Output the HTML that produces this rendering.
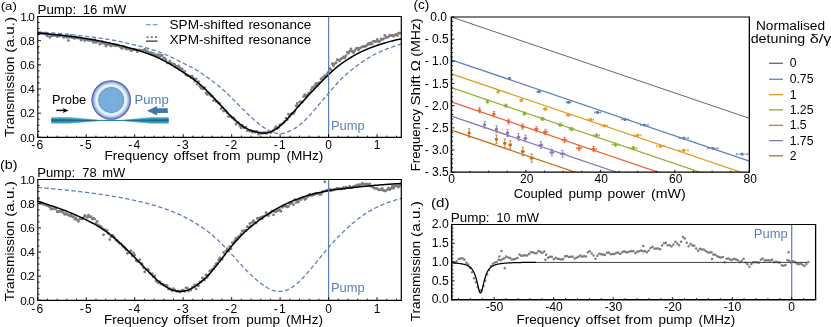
<!DOCTYPE html>
<html><head><meta charset="utf-8"><title>figure</title>
<style>
html,body{margin:0;padding:0;background:#fff;}
svg{display:block;font-family:"Liberation Sans",sans-serif;}
</style></head>
<body>
<svg width="831" height="327" viewBox="0 0 831 327" style="will-change:transform">
<rect width="831" height="327" fill="#fff"/>
<g id="pa">
<path d="M37.1 33.32a1.4 1.4 0 1 0 2.8 0a1.4 1.4 0 1 0 -2.8 0zM38.35 33.77a1.4 1.4 0 1 0 2.8 0a1.4 1.4 0 1 0 -2.8 0zM39.6 33.43a1.4 1.4 0 1 0 2.8 0a1.4 1.4 0 1 0 -2.8 0zM40.85 33.06a1.4 1.4 0 1 0 2.8 0a1.4 1.4 0 1 0 -2.8 0zM42.1 33.64a1.4 1.4 0 1 0 2.8 0a1.4 1.4 0 1 0 -2.8 0zM43.35 33.33a1.4 1.4 0 1 0 2.8 0a1.4 1.4 0 1 0 -2.8 0zM44.6 34.47a1.4 1.4 0 1 0 2.8 0a1.4 1.4 0 1 0 -2.8 0zM45.85 35.81a1.4 1.4 0 1 0 2.8 0a1.4 1.4 0 1 0 -2.8 0zM47.1 34.33a1.4 1.4 0 1 0 2.8 0a1.4 1.4 0 1 0 -2.8 0zM48.35 37.4a1.4 1.4 0 1 0 2.8 0a1.4 1.4 0 1 0 -2.8 0zM49.6 35.59a1.4 1.4 0 1 0 2.8 0a1.4 1.4 0 1 0 -2.8 0zM50.85 35.65a1.4 1.4 0 1 0 2.8 0a1.4 1.4 0 1 0 -2.8 0zM52.1 35.6a1.4 1.4 0 1 0 2.8 0a1.4 1.4 0 1 0 -2.8 0zM53.35 34.85a1.4 1.4 0 1 0 2.8 0a1.4 1.4 0 1 0 -2.8 0zM54.6 35.85a1.4 1.4 0 1 0 2.8 0a1.4 1.4 0 1 0 -2.8 0zM55.85 36.7a1.4 1.4 0 1 0 2.8 0a1.4 1.4 0 1 0 -2.8 0zM57.1 35.03a1.4 1.4 0 1 0 2.8 0a1.4 1.4 0 1 0 -2.8 0zM58.35 36.02a1.4 1.4 0 1 0 2.8 0a1.4 1.4 0 1 0 -2.8 0zM59.6 34.86a1.4 1.4 0 1 0 2.8 0a1.4 1.4 0 1 0 -2.8 0zM60.85 35.56a1.4 1.4 0 1 0 2.8 0a1.4 1.4 0 1 0 -2.8 0zM62.1 37.39a1.4 1.4 0 1 0 2.8 0a1.4 1.4 0 1 0 -2.8 0zM63.35 36.8a1.4 1.4 0 1 0 2.8 0a1.4 1.4 0 1 0 -2.8 0zM64.6 36.01a1.4 1.4 0 1 0 2.8 0a1.4 1.4 0 1 0 -2.8 0zM65.85 37.56a1.4 1.4 0 1 0 2.8 0a1.4 1.4 0 1 0 -2.8 0zM67.1 40.6a1.4 1.4 0 1 0 2.8 0a1.4 1.4 0 1 0 -2.8 0zM68.35 37.44a1.4 1.4 0 1 0 2.8 0a1.4 1.4 0 1 0 -2.8 0zM69.6 35.47a1.4 1.4 0 1 0 2.8 0a1.4 1.4 0 1 0 -2.8 0zM70.85 37.43a1.4 1.4 0 1 0 2.8 0a1.4 1.4 0 1 0 -2.8 0zM72.1 38.04a1.4 1.4 0 1 0 2.8 0a1.4 1.4 0 1 0 -2.8 0zM73.35 38.35a1.4 1.4 0 1 0 2.8 0a1.4 1.4 0 1 0 -2.8 0zM74.6 37.02a1.4 1.4 0 1 0 2.8 0a1.4 1.4 0 1 0 -2.8 0zM75.85 38.15a1.4 1.4 0 1 0 2.8 0a1.4 1.4 0 1 0 -2.8 0zM77.1 37.86a1.4 1.4 0 1 0 2.8 0a1.4 1.4 0 1 0 -2.8 0zM78.35 38.19a1.4 1.4 0 1 0 2.8 0a1.4 1.4 0 1 0 -2.8 0zM79.6 40.08a1.4 1.4 0 1 0 2.8 0a1.4 1.4 0 1 0 -2.8 0zM80.85 38.55a1.4 1.4 0 1 0 2.8 0a1.4 1.4 0 1 0 -2.8 0zM82.1 39.45a1.4 1.4 0 1 0 2.8 0a1.4 1.4 0 1 0 -2.8 0zM83.35 40.49a1.4 1.4 0 1 0 2.8 0a1.4 1.4 0 1 0 -2.8 0zM84.6 39.33a1.4 1.4 0 1 0 2.8 0a1.4 1.4 0 1 0 -2.8 0zM85.85 39.96a1.4 1.4 0 1 0 2.8 0a1.4 1.4 0 1 0 -2.8 0zM87.1 40.37a1.4 1.4 0 1 0 2.8 0a1.4 1.4 0 1 0 -2.8 0zM88.35 40.54a1.4 1.4 0 1 0 2.8 0a1.4 1.4 0 1 0 -2.8 0zM89.6 39.56a1.4 1.4 0 1 0 2.8 0a1.4 1.4 0 1 0 -2.8 0zM90.85 40.98a1.4 1.4 0 1 0 2.8 0a1.4 1.4 0 1 0 -2.8 0zM92.1 42.38a1.4 1.4 0 1 0 2.8 0a1.4 1.4 0 1 0 -2.8 0zM93.35 39.92a1.4 1.4 0 1 0 2.8 0a1.4 1.4 0 1 0 -2.8 0zM94.6 42.38a1.4 1.4 0 1 0 2.8 0a1.4 1.4 0 1 0 -2.8 0zM95.85 41.92a1.4 1.4 0 1 0 2.8 0a1.4 1.4 0 1 0 -2.8 0zM97.1 41.45a1.4 1.4 0 1 0 2.8 0a1.4 1.4 0 1 0 -2.8 0zM98.35 44.15a1.4 1.4 0 1 0 2.8 0a1.4 1.4 0 1 0 -2.8 0zM99.6 43.24a1.4 1.4 0 1 0 2.8 0a1.4 1.4 0 1 0 -2.8 0zM100.85 41.66a1.4 1.4 0 1 0 2.8 0a1.4 1.4 0 1 0 -2.8 0zM102.1 43.1a1.4 1.4 0 1 0 2.8 0a1.4 1.4 0 1 0 -2.8 0zM103.35 43.83a1.4 1.4 0 1 0 2.8 0a1.4 1.4 0 1 0 -2.8 0zM104.6 45.98a1.4 1.4 0 1 0 2.8 0a1.4 1.4 0 1 0 -2.8 0zM105.85 44.45a1.4 1.4 0 1 0 2.8 0a1.4 1.4 0 1 0 -2.8 0zM107.1 44.02a1.4 1.4 0 1 0 2.8 0a1.4 1.4 0 1 0 -2.8 0zM108.35 44.98a1.4 1.4 0 1 0 2.8 0a1.4 1.4 0 1 0 -2.8 0zM109.6 45.98a1.4 1.4 0 1 0 2.8 0a1.4 1.4 0 1 0 -2.8 0zM110.85 44.28a1.4 1.4 0 1 0 2.8 0a1.4 1.4 0 1 0 -2.8 0zM112.1 45.39a1.4 1.4 0 1 0 2.8 0a1.4 1.4 0 1 0 -2.8 0zM113.35 45.05a1.4 1.4 0 1 0 2.8 0a1.4 1.4 0 1 0 -2.8 0zM114.6 45.9a1.4 1.4 0 1 0 2.8 0a1.4 1.4 0 1 0 -2.8 0zM115.85 44.95a1.4 1.4 0 1 0 2.8 0a1.4 1.4 0 1 0 -2.8 0zM117.1 45.83a1.4 1.4 0 1 0 2.8 0a1.4 1.4 0 1 0 -2.8 0zM118.35 46.49a1.4 1.4 0 1 0 2.8 0a1.4 1.4 0 1 0 -2.8 0zM119.6 47.84a1.4 1.4 0 1 0 2.8 0a1.4 1.4 0 1 0 -2.8 0zM120.85 48.39a1.4 1.4 0 1 0 2.8 0a1.4 1.4 0 1 0 -2.8 0zM122.1 46.36a1.4 1.4 0 1 0 2.8 0a1.4 1.4 0 1 0 -2.8 0zM123.35 47.19a1.4 1.4 0 1 0 2.8 0a1.4 1.4 0 1 0 -2.8 0zM124.6 48.89a1.4 1.4 0 1 0 2.8 0a1.4 1.4 0 1 0 -2.8 0zM125.85 49.1a1.4 1.4 0 1 0 2.8 0a1.4 1.4 0 1 0 -2.8 0zM127.1 48.5a1.4 1.4 0 1 0 2.8 0a1.4 1.4 0 1 0 -2.8 0zM128.35 49.19a1.4 1.4 0 1 0 2.8 0a1.4 1.4 0 1 0 -2.8 0zM129.6 50.68a1.4 1.4 0 1 0 2.8 0a1.4 1.4 0 1 0 -2.8 0zM130.85 50.29a1.4 1.4 0 1 0 2.8 0a1.4 1.4 0 1 0 -2.8 0zM132.1 49.46a1.4 1.4 0 1 0 2.8 0a1.4 1.4 0 1 0 -2.8 0zM133.35 49.58a1.4 1.4 0 1 0 2.8 0a1.4 1.4 0 1 0 -2.8 0zM134.6 49.86a1.4 1.4 0 1 0 2.8 0a1.4 1.4 0 1 0 -2.8 0zM135.85 51.76a1.4 1.4 0 1 0 2.8 0a1.4 1.4 0 1 0 -2.8 0zM137.1 49.97a1.4 1.4 0 1 0 2.8 0a1.4 1.4 0 1 0 -2.8 0zM138.35 50.1a1.4 1.4 0 1 0 2.8 0a1.4 1.4 0 1 0 -2.8 0zM139.6 50.76a1.4 1.4 0 1 0 2.8 0a1.4 1.4 0 1 0 -2.8 0zM140.85 50.33a1.4 1.4 0 1 0 2.8 0a1.4 1.4 0 1 0 -2.8 0zM142.1 50.29a1.4 1.4 0 1 0 2.8 0a1.4 1.4 0 1 0 -2.8 0zM143.35 49.43a1.4 1.4 0 1 0 2.8 0a1.4 1.4 0 1 0 -2.8 0zM144.6 50.87a1.4 1.4 0 1 0 2.8 0a1.4 1.4 0 1 0 -2.8 0zM145.85 50.89a1.4 1.4 0 1 0 2.8 0a1.4 1.4 0 1 0 -2.8 0zM147.1 52.95a1.4 1.4 0 1 0 2.8 0a1.4 1.4 0 1 0 -2.8 0zM148.35 52.91a1.4 1.4 0 1 0 2.8 0a1.4 1.4 0 1 0 -2.8 0zM149.6 52.7a1.4 1.4 0 1 0 2.8 0a1.4 1.4 0 1 0 -2.8 0zM150.85 53.9a1.4 1.4 0 1 0 2.8 0a1.4 1.4 0 1 0 -2.8 0zM152.1 53.38a1.4 1.4 0 1 0 2.8 0a1.4 1.4 0 1 0 -2.8 0zM153.35 55.33a1.4 1.4 0 1 0 2.8 0a1.4 1.4 0 1 0 -2.8 0zM154.6 54.78a1.4 1.4 0 1 0 2.8 0a1.4 1.4 0 1 0 -2.8 0zM155.85 55.95a1.4 1.4 0 1 0 2.8 0a1.4 1.4 0 1 0 -2.8 0zM157.1 54.54a1.4 1.4 0 1 0 2.8 0a1.4 1.4 0 1 0 -2.8 0zM158.35 56.87a1.4 1.4 0 1 0 2.8 0a1.4 1.4 0 1 0 -2.8 0zM159.6 55.28a1.4 1.4 0 1 0 2.8 0a1.4 1.4 0 1 0 -2.8 0zM160.85 55.51a1.4 1.4 0 1 0 2.8 0a1.4 1.4 0 1 0 -2.8 0zM162.1 58.04a1.4 1.4 0 1 0 2.8 0a1.4 1.4 0 1 0 -2.8 0zM163.35 58.04a1.4 1.4 0 1 0 2.8 0a1.4 1.4 0 1 0 -2.8 0zM164.6 59.9a1.4 1.4 0 1 0 2.8 0a1.4 1.4 0 1 0 -2.8 0zM165.85 62.93a1.4 1.4 0 1 0 2.8 0a1.4 1.4 0 1 0 -2.8 0zM167.1 62.97a1.4 1.4 0 1 0 2.8 0a1.4 1.4 0 1 0 -2.8 0zM168.35 61.13a1.4 1.4 0 1 0 2.8 0a1.4 1.4 0 1 0 -2.8 0zM169.6 62.81a1.4 1.4 0 1 0 2.8 0a1.4 1.4 0 1 0 -2.8 0zM170.85 63.89a1.4 1.4 0 1 0 2.8 0a1.4 1.4 0 1 0 -2.8 0zM172.1 63.88a1.4 1.4 0 1 0 2.8 0a1.4 1.4 0 1 0 -2.8 0zM173.35 64.61a1.4 1.4 0 1 0 2.8 0a1.4 1.4 0 1 0 -2.8 0zM174.6 66.45a1.4 1.4 0 1 0 2.8 0a1.4 1.4 0 1 0 -2.8 0zM175.85 67.03a1.4 1.4 0 1 0 2.8 0a1.4 1.4 0 1 0 -2.8 0zM177.1 65.99a1.4 1.4 0 1 0 2.8 0a1.4 1.4 0 1 0 -2.8 0zM178.35 67.92a1.4 1.4 0 1 0 2.8 0a1.4 1.4 0 1 0 -2.8 0zM179.6 69.12a1.4 1.4 0 1 0 2.8 0a1.4 1.4 0 1 0 -2.8 0zM180.85 68.96a1.4 1.4 0 1 0 2.8 0a1.4 1.4 0 1 0 -2.8 0zM182.1 71.67a1.4 1.4 0 1 0 2.8 0a1.4 1.4 0 1 0 -2.8 0zM183.35 71.48a1.4 1.4 0 1 0 2.8 0a1.4 1.4 0 1 0 -2.8 0zM184.6 74.81a1.4 1.4 0 1 0 2.8 0a1.4 1.4 0 1 0 -2.8 0zM185.85 75.02a1.4 1.4 0 1 0 2.8 0a1.4 1.4 0 1 0 -2.8 0zM187.1 75.96a1.4 1.4 0 1 0 2.8 0a1.4 1.4 0 1 0 -2.8 0zM188.35 76.08a1.4 1.4 0 1 0 2.8 0a1.4 1.4 0 1 0 -2.8 0zM189.6 77.59a1.4 1.4 0 1 0 2.8 0a1.4 1.4 0 1 0 -2.8 0zM190.85 76.25a1.4 1.4 0 1 0 2.8 0a1.4 1.4 0 1 0 -2.8 0zM192.1 78.28a1.4 1.4 0 1 0 2.8 0a1.4 1.4 0 1 0 -2.8 0zM193.35 81.17a1.4 1.4 0 1 0 2.8 0a1.4 1.4 0 1 0 -2.8 0zM194.6 79.01a1.4 1.4 0 1 0 2.8 0a1.4 1.4 0 1 0 -2.8 0zM195.85 83.98a1.4 1.4 0 1 0 2.8 0a1.4 1.4 0 1 0 -2.8 0zM197.1 81.64a1.4 1.4 0 1 0 2.8 0a1.4 1.4 0 1 0 -2.8 0zM198.35 86.19a1.4 1.4 0 1 0 2.8 0a1.4 1.4 0 1 0 -2.8 0zM199.6 88.11a1.4 1.4 0 1 0 2.8 0a1.4 1.4 0 1 0 -2.8 0zM200.85 88.54a1.4 1.4 0 1 0 2.8 0a1.4 1.4 0 1 0 -2.8 0zM202.1 88.8a1.4 1.4 0 1 0 2.8 0a1.4 1.4 0 1 0 -2.8 0zM203.35 87.58a1.4 1.4 0 1 0 2.8 0a1.4 1.4 0 1 0 -2.8 0zM204.6 92.89a1.4 1.4 0 1 0 2.8 0a1.4 1.4 0 1 0 -2.8 0zM205.85 94.45a1.4 1.4 0 1 0 2.8 0a1.4 1.4 0 1 0 -2.8 0zM207.1 93.47a1.4 1.4 0 1 0 2.8 0a1.4 1.4 0 1 0 -2.8 0zM208.35 94.44a1.4 1.4 0 1 0 2.8 0a1.4 1.4 0 1 0 -2.8 0zM209.6 95.92a1.4 1.4 0 1 0 2.8 0a1.4 1.4 0 1 0 -2.8 0zM210.85 95.98a1.4 1.4 0 1 0 2.8 0a1.4 1.4 0 1 0 -2.8 0zM212.1 100.53a1.4 1.4 0 1 0 2.8 0a1.4 1.4 0 1 0 -2.8 0zM213.35 99.32a1.4 1.4 0 1 0 2.8 0a1.4 1.4 0 1 0 -2.8 0zM214.6 101.41a1.4 1.4 0 1 0 2.8 0a1.4 1.4 0 1 0 -2.8 0zM215.85 101.58a1.4 1.4 0 1 0 2.8 0a1.4 1.4 0 1 0 -2.8 0zM217.1 103.17a1.4 1.4 0 1 0 2.8 0a1.4 1.4 0 1 0 -2.8 0zM218.35 103.48a1.4 1.4 0 1 0 2.8 0a1.4 1.4 0 1 0 -2.8 0zM219.6 108.83a1.4 1.4 0 1 0 2.8 0a1.4 1.4 0 1 0 -2.8 0zM220.85 107.94a1.4 1.4 0 1 0 2.8 0a1.4 1.4 0 1 0 -2.8 0zM222.1 111.05a1.4 1.4 0 1 0 2.8 0a1.4 1.4 0 1 0 -2.8 0zM223.35 110.88a1.4 1.4 0 1 0 2.8 0a1.4 1.4 0 1 0 -2.8 0zM224.6 111.1a1.4 1.4 0 1 0 2.8 0a1.4 1.4 0 1 0 -2.8 0zM225.85 113a1.4 1.4 0 1 0 2.8 0a1.4 1.4 0 1 0 -2.8 0zM227.1 116.54a1.4 1.4 0 1 0 2.8 0a1.4 1.4 0 1 0 -2.8 0zM228.35 116.09a1.4 1.4 0 1 0 2.8 0a1.4 1.4 0 1 0 -2.8 0zM229.6 116.77a1.4 1.4 0 1 0 2.8 0a1.4 1.4 0 1 0 -2.8 0zM230.85 118.11a1.4 1.4 0 1 0 2.8 0a1.4 1.4 0 1 0 -2.8 0zM232.1 117.75a1.4 1.4 0 1 0 2.8 0a1.4 1.4 0 1 0 -2.8 0zM233.35 119.75a1.4 1.4 0 1 0 2.8 0a1.4 1.4 0 1 0 -2.8 0zM234.6 124.33a1.4 1.4 0 1 0 2.8 0a1.4 1.4 0 1 0 -2.8 0zM235.85 122.18a1.4 1.4 0 1 0 2.8 0a1.4 1.4 0 1 0 -2.8 0zM237.1 122.73a1.4 1.4 0 1 0 2.8 0a1.4 1.4 0 1 0 -2.8 0zM238.35 125.55a1.4 1.4 0 1 0 2.8 0a1.4 1.4 0 1 0 -2.8 0zM239.6 127.82a1.4 1.4 0 1 0 2.8 0a1.4 1.4 0 1 0 -2.8 0zM240.85 125.15a1.4 1.4 0 1 0 2.8 0a1.4 1.4 0 1 0 -2.8 0zM242.1 127.51a1.4 1.4 0 1 0 2.8 0a1.4 1.4 0 1 0 -2.8 0zM243.35 127.79a1.4 1.4 0 1 0 2.8 0a1.4 1.4 0 1 0 -2.8 0zM244.6 127.27a1.4 1.4 0 1 0 2.8 0a1.4 1.4 0 1 0 -2.8 0zM245.85 130.66a1.4 1.4 0 1 0 2.8 0a1.4 1.4 0 1 0 -2.8 0zM247.1 130.42a1.4 1.4 0 1 0 2.8 0a1.4 1.4 0 1 0 -2.8 0zM248.35 131.04a1.4 1.4 0 1 0 2.8 0a1.4 1.4 0 1 0 -2.8 0zM249.6 130.61a1.4 1.4 0 1 0 2.8 0a1.4 1.4 0 1 0 -2.8 0zM250.85 132.15a1.4 1.4 0 1 0 2.8 0a1.4 1.4 0 1 0 -2.8 0zM252.1 131.48a1.4 1.4 0 1 0 2.8 0a1.4 1.4 0 1 0 -2.8 0zM253.35 132.13a1.4 1.4 0 1 0 2.8 0a1.4 1.4 0 1 0 -2.8 0zM254.6 131.44a1.4 1.4 0 1 0 2.8 0a1.4 1.4 0 1 0 -2.8 0zM255.85 131.56a1.4 1.4 0 1 0 2.8 0a1.4 1.4 0 1 0 -2.8 0zM257.1 134.14a1.4 1.4 0 1 0 2.8 0a1.4 1.4 0 1 0 -2.8 0zM258.35 132.56a1.4 1.4 0 1 0 2.8 0a1.4 1.4 0 1 0 -2.8 0zM259.6 133.37a1.4 1.4 0 1 0 2.8 0a1.4 1.4 0 1 0 -2.8 0zM260.85 133.11a1.4 1.4 0 1 0 2.8 0a1.4 1.4 0 1 0 -2.8 0zM262.1 132.73a1.4 1.4 0 1 0 2.8 0a1.4 1.4 0 1 0 -2.8 0zM263.35 132.58a1.4 1.4 0 1 0 2.8 0a1.4 1.4 0 1 0 -2.8 0zM264.6 133.44a1.4 1.4 0 1 0 2.8 0a1.4 1.4 0 1 0 -2.8 0zM265.85 132.33a1.4 1.4 0 1 0 2.8 0a1.4 1.4 0 1 0 -2.8 0zM267.1 132.12a1.4 1.4 0 1 0 2.8 0a1.4 1.4 0 1 0 -2.8 0zM268.35 131.85a1.4 1.4 0 1 0 2.8 0a1.4 1.4 0 1 0 -2.8 0zM269.6 132.51a1.4 1.4 0 1 0 2.8 0a1.4 1.4 0 1 0 -2.8 0zM270.85 131.42a1.4 1.4 0 1 0 2.8 0a1.4 1.4 0 1 0 -2.8 0zM272.1 130.43a1.4 1.4 0 1 0 2.8 0a1.4 1.4 0 1 0 -2.8 0zM273.35 128.57a1.4 1.4 0 1 0 2.8 0a1.4 1.4 0 1 0 -2.8 0zM274.6 126.65a1.4 1.4 0 1 0 2.8 0a1.4 1.4 0 1 0 -2.8 0zM275.85 128.52a1.4 1.4 0 1 0 2.8 0a1.4 1.4 0 1 0 -2.8 0zM277.1 127.53a1.4 1.4 0 1 0 2.8 0a1.4 1.4 0 1 0 -2.8 0zM278.35 124.96a1.4 1.4 0 1 0 2.8 0a1.4 1.4 0 1 0 -2.8 0zM279.6 124.72a1.4 1.4 0 1 0 2.8 0a1.4 1.4 0 1 0 -2.8 0zM280.85 123.84a1.4 1.4 0 1 0 2.8 0a1.4 1.4 0 1 0 -2.8 0zM282.1 122.65a1.4 1.4 0 1 0 2.8 0a1.4 1.4 0 1 0 -2.8 0zM283.35 121.47a1.4 1.4 0 1 0 2.8 0a1.4 1.4 0 1 0 -2.8 0zM284.6 118.08a1.4 1.4 0 1 0 2.8 0a1.4 1.4 0 1 0 -2.8 0zM285.85 119.84a1.4 1.4 0 1 0 2.8 0a1.4 1.4 0 1 0 -2.8 0zM287.1 114.14a1.4 1.4 0 1 0 2.8 0a1.4 1.4 0 1 0 -2.8 0zM288.35 116.13a1.4 1.4 0 1 0 2.8 0a1.4 1.4 0 1 0 -2.8 0zM289.6 114.15a1.4 1.4 0 1 0 2.8 0a1.4 1.4 0 1 0 -2.8 0zM290.85 113.36a1.4 1.4 0 1 0 2.8 0a1.4 1.4 0 1 0 -2.8 0zM292.1 113.59a1.4 1.4 0 1 0 2.8 0a1.4 1.4 0 1 0 -2.8 0zM293.35 111.51a1.4 1.4 0 1 0 2.8 0a1.4 1.4 0 1 0 -2.8 0zM294.6 105.78a1.4 1.4 0 1 0 2.8 0a1.4 1.4 0 1 0 -2.8 0zM295.85 103.48a1.4 1.4 0 1 0 2.8 0a1.4 1.4 0 1 0 -2.8 0zM297.1 106.15a1.4 1.4 0 1 0 2.8 0a1.4 1.4 0 1 0 -2.8 0zM298.35 101.78a1.4 1.4 0 1 0 2.8 0a1.4 1.4 0 1 0 -2.8 0zM299.6 102.01a1.4 1.4 0 1 0 2.8 0a1.4 1.4 0 1 0 -2.8 0zM300.85 101.99a1.4 1.4 0 1 0 2.8 0a1.4 1.4 0 1 0 -2.8 0zM302.1 96.64a1.4 1.4 0 1 0 2.8 0a1.4 1.4 0 1 0 -2.8 0zM303.35 94.54a1.4 1.4 0 1 0 2.8 0a1.4 1.4 0 1 0 -2.8 0zM304.6 96.94a1.4 1.4 0 1 0 2.8 0a1.4 1.4 0 1 0 -2.8 0zM305.85 95.25a1.4 1.4 0 1 0 2.8 0a1.4 1.4 0 1 0 -2.8 0zM307.1 93.44a1.4 1.4 0 1 0 2.8 0a1.4 1.4 0 1 0 -2.8 0zM308.35 92.55a1.4 1.4 0 1 0 2.8 0a1.4 1.4 0 1 0 -2.8 0zM309.6 89.81a1.4 1.4 0 1 0 2.8 0a1.4 1.4 0 1 0 -2.8 0zM310.85 87.47a1.4 1.4 0 1 0 2.8 0a1.4 1.4 0 1 0 -2.8 0zM312.1 88.25a1.4 1.4 0 1 0 2.8 0a1.4 1.4 0 1 0 -2.8 0zM313.35 85.69a1.4 1.4 0 1 0 2.8 0a1.4 1.4 0 1 0 -2.8 0zM314.6 83.35a1.4 1.4 0 1 0 2.8 0a1.4 1.4 0 1 0 -2.8 0zM315.85 85.36a1.4 1.4 0 1 0 2.8 0a1.4 1.4 0 1 0 -2.8 0zM317.1 83.19a1.4 1.4 0 1 0 2.8 0a1.4 1.4 0 1 0 -2.8 0zM318.35 82.62a1.4 1.4 0 1 0 2.8 0a1.4 1.4 0 1 0 -2.8 0zM319.6 79.24a1.4 1.4 0 1 0 2.8 0a1.4 1.4 0 1 0 -2.8 0zM320.85 78.52a1.4 1.4 0 1 0 2.8 0a1.4 1.4 0 1 0 -2.8 0zM322.1 76.79a1.4 1.4 0 1 0 2.8 0a1.4 1.4 0 1 0 -2.8 0zM323.35 75.76a1.4 1.4 0 1 0 2.8 0a1.4 1.4 0 1 0 -2.8 0zM324.6 76.18a1.4 1.4 0 1 0 2.8 0a1.4 1.4 0 1 0 -2.8 0zM325.85 73.55a1.4 1.4 0 1 0 2.8 0a1.4 1.4 0 1 0 -2.8 0zM327.1 71.83a1.4 1.4 0 1 0 2.8 0a1.4 1.4 0 1 0 -2.8 0zM328.35 68.42a1.4 1.4 0 1 0 2.8 0a1.4 1.4 0 1 0 -2.8 0zM329.6 69.72a1.4 1.4 0 1 0 2.8 0a1.4 1.4 0 1 0 -2.8 0zM330.85 63.77a1.4 1.4 0 1 0 2.8 0a1.4 1.4 0 1 0 -2.8 0zM332.1 65.92a1.4 1.4 0 1 0 2.8 0a1.4 1.4 0 1 0 -2.8 0zM333.35 63.53a1.4 1.4 0 1 0 2.8 0a1.4 1.4 0 1 0 -2.8 0zM334.6 62.63a1.4 1.4 0 1 0 2.8 0a1.4 1.4 0 1 0 -2.8 0zM335.85 59.76a1.4 1.4 0 1 0 2.8 0a1.4 1.4 0 1 0 -2.8 0zM337.1 60.15a1.4 1.4 0 1 0 2.8 0a1.4 1.4 0 1 0 -2.8 0zM338.35 60.8a1.4 1.4 0 1 0 2.8 0a1.4 1.4 0 1 0 -2.8 0zM339.6 58.87a1.4 1.4 0 1 0 2.8 0a1.4 1.4 0 1 0 -2.8 0zM340.85 58.23a1.4 1.4 0 1 0 2.8 0a1.4 1.4 0 1 0 -2.8 0zM342.1 56.95a1.4 1.4 0 1 0 2.8 0a1.4 1.4 0 1 0 -2.8 0zM343.35 57.91a1.4 1.4 0 1 0 2.8 0a1.4 1.4 0 1 0 -2.8 0zM344.6 55.69a1.4 1.4 0 1 0 2.8 0a1.4 1.4 0 1 0 -2.8 0zM345.85 52.33a1.4 1.4 0 1 0 2.8 0a1.4 1.4 0 1 0 -2.8 0zM347.1 53.36a1.4 1.4 0 1 0 2.8 0a1.4 1.4 0 1 0 -2.8 0zM348.35 51.14a1.4 1.4 0 1 0 2.8 0a1.4 1.4 0 1 0 -2.8 0zM349.6 48.95a1.4 1.4 0 1 0 2.8 0a1.4 1.4 0 1 0 -2.8 0zM350.85 51.38a1.4 1.4 0 1 0 2.8 0a1.4 1.4 0 1 0 -2.8 0zM352.1 52.8a1.4 1.4 0 1 0 2.8 0a1.4 1.4 0 1 0 -2.8 0zM353.35 50.67a1.4 1.4 0 1 0 2.8 0a1.4 1.4 0 1 0 -2.8 0zM354.6 48.65a1.4 1.4 0 1 0 2.8 0a1.4 1.4 0 1 0 -2.8 0zM355.85 48.27a1.4 1.4 0 1 0 2.8 0a1.4 1.4 0 1 0 -2.8 0zM357.1 49.92a1.4 1.4 0 1 0 2.8 0a1.4 1.4 0 1 0 -2.8 0zM358.35 48.25a1.4 1.4 0 1 0 2.8 0a1.4 1.4 0 1 0 -2.8 0zM359.6 47.54a1.4 1.4 0 1 0 2.8 0a1.4 1.4 0 1 0 -2.8 0zM360.85 46.87a1.4 1.4 0 1 0 2.8 0a1.4 1.4 0 1 0 -2.8 0zM362.1 46.42a1.4 1.4 0 1 0 2.8 0a1.4 1.4 0 1 0 -2.8 0zM363.35 46.69a1.4 1.4 0 1 0 2.8 0a1.4 1.4 0 1 0 -2.8 0zM364.6 45.91a1.4 1.4 0 1 0 2.8 0a1.4 1.4 0 1 0 -2.8 0zM365.85 45.07a1.4 1.4 0 1 0 2.8 0a1.4 1.4 0 1 0 -2.8 0zM367.1 43.31a1.4 1.4 0 1 0 2.8 0a1.4 1.4 0 1 0 -2.8 0zM368.35 44.43a1.4 1.4 0 1 0 2.8 0a1.4 1.4 0 1 0 -2.8 0zM369.6 42.69a1.4 1.4 0 1 0 2.8 0a1.4 1.4 0 1 0 -2.8 0zM370.85 43.95a1.4 1.4 0 1 0 2.8 0a1.4 1.4 0 1 0 -2.8 0zM372.1 41.06a1.4 1.4 0 1 0 2.8 0a1.4 1.4 0 1 0 -2.8 0zM373.35 41.68a1.4 1.4 0 1 0 2.8 0a1.4 1.4 0 1 0 -2.8 0zM374.6 41.3a1.4 1.4 0 1 0 2.8 0a1.4 1.4 0 1 0 -2.8 0zM375.85 39.5a1.4 1.4 0 1 0 2.8 0a1.4 1.4 0 1 0 -2.8 0zM377.1 42.02a1.4 1.4 0 1 0 2.8 0a1.4 1.4 0 1 0 -2.8 0zM378.35 41.28a1.4 1.4 0 1 0 2.8 0a1.4 1.4 0 1 0 -2.8 0zM379.6 38.91a1.4 1.4 0 1 0 2.8 0a1.4 1.4 0 1 0 -2.8 0zM380.85 39.66a1.4 1.4 0 1 0 2.8 0a1.4 1.4 0 1 0 -2.8 0zM382.1 38.82a1.4 1.4 0 1 0 2.8 0a1.4 1.4 0 1 0 -2.8 0zM383.35 35.47a1.4 1.4 0 1 0 2.8 0a1.4 1.4 0 1 0 -2.8 0zM384.6 37.81a1.4 1.4 0 1 0 2.8 0a1.4 1.4 0 1 0 -2.8 0zM385.85 37.08a1.4 1.4 0 1 0 2.8 0a1.4 1.4 0 1 0 -2.8 0zM387.1 36.8a1.4 1.4 0 1 0 2.8 0a1.4 1.4 0 1 0 -2.8 0zM388.35 35.28a1.4 1.4 0 1 0 2.8 0a1.4 1.4 0 1 0 -2.8 0zM389.6 35.66a1.4 1.4 0 1 0 2.8 0a1.4 1.4 0 1 0 -2.8 0zM390.85 35.36a1.4 1.4 0 1 0 2.8 0a1.4 1.4 0 1 0 -2.8 0zM392.1 36.28a1.4 1.4 0 1 0 2.8 0a1.4 1.4 0 1 0 -2.8 0zM393.35 35.11a1.4 1.4 0 1 0 2.8 0a1.4 1.4 0 1 0 -2.8 0zM394.6 34.44a1.4 1.4 0 1 0 2.8 0a1.4 1.4 0 1 0 -2.8 0zM395.85 35.53a1.4 1.4 0 1 0 2.8 0a1.4 1.4 0 1 0 -2.8 0zM397.1 33.26a1.4 1.4 0 1 0 2.8 0a1.4 1.4 0 1 0 -2.8 0zM398.35 33.1a1.4 1.4 0 1 0 2.8 0a1.4 1.4 0 1 0 -2.8 0z" fill="#7d7d7d"/>
<path d="M37.6 32.1 L38.51 32.13 L39.42 32.15 L40.33 32.18 L41.25 32.22 L42.16 32.26 L43.07 32.3 L43.98 32.34 L44.89 32.39 L45.8 32.43 L46.72 32.49 L47.63 32.54 L48.54 32.6 L49.45 32.65 L50.36 32.72 L51.27 32.78 L52.18 32.85 L53.1 32.91 L54.01 32.98 L54.92 33.06 L55.83 33.13 L56.74 33.21 L57.65 33.29 L58.57 33.37 L59.48 33.45 L60.39 33.53 L61.3 33.62 L62.21 33.71 L63.12 33.8 L64.03 33.89 L64.95 33.98 L65.86 34.07 L66.77 34.17 L67.68 34.26 L68.59 34.36 L69.5 34.46 L70.42 34.56 L71.33 34.66 L72.24 34.76 L73.15 34.86 L74.06 34.97 L74.97 35.07 L75.88 35.18 L76.8 35.28 L77.71 35.39 L78.62 35.49 L79.53 35.6 L80.44 35.71 L81.35 35.82 L82.26 35.93 L83.18 36.04 L84.09 36.15 L85 36.26 L85.91 36.37 L86.82 36.47 L87.73 36.58 L88.65 36.69 L89.56 36.81 L90.47 36.92 L91.38 37.03 L92.29 37.14 L93.2 37.25 L94.11 37.37 L95.03 37.48 L95.94 37.6 L96.85 37.72 L97.76 37.84 L98.67 37.96 L99.58 38.08 L100.5 38.21 L101.41 38.34 L102.32 38.47 L103.23 38.6 L104.14 38.74 L105.05 38.87 L105.96 39.01 L106.88 39.16 L107.79 39.3 L108.7 39.45 L109.61 39.61 L110.52 39.76 L111.43 39.92 L112.35 40.09 L113.26 40.26 L114.17 40.43 L115.08 40.6 L115.99 40.78 L116.9 40.96 L117.81 41.14 L118.73 41.33 L119.64 41.52 L120.55 41.71 L121.46 41.91 L122.37 42.11 L123.28 42.31 L124.2 42.51 L125.11 42.71 L126.02 42.92 L126.93 43.13 L127.84 43.34 L128.75 43.55 L129.66 43.77 L130.58 43.99 L131.49 44.2 L132.4 44.42 L133.31 44.64 L134.22 44.87 L135.13 45.09 L136.05 45.31 L136.96 45.54 L137.87 45.76 L138.78 45.99 L139.69 46.22 L140.6 46.45 L141.51 46.68 L142.43 46.92 L143.34 47.16 L144.25 47.4 L145.16 47.64 L146.07 47.89 L146.98 48.14 L147.89 48.4 L148.81 48.66 L149.72 48.93 L150.63 49.2 L151.54 49.48 L152.45 49.76 L153.36 50.05 L154.28 50.34 L155.19 50.64 L156.1 50.95 L157.01 51.27 L157.92 51.59 L158.83 51.92 L159.74 52.26 L160.66 52.61 L161.57 52.97 L162.48 53.33 L163.39 53.7 L164.3 54.09 L165.21 54.48 L166.13 54.87 L167.04 55.28 L167.95 55.69 L168.86 56.1 L169.77 56.52 L170.68 56.95 L171.59 57.38 L172.51 57.82 L173.42 58.26 L174.33 58.7 L175.24 59.15 L176.15 59.6 L177.06 60.05 L177.98 60.51 L178.89 60.97 L179.8 61.43 L180.71 61.88 L181.62 62.34 L182.53 62.81 L183.44 63.26 L184.36 63.72 L185.27 64.18 L186.18 64.64 L187.09 65.09 L188 65.55 L188.91 66.01 L189.83 66.46 L190.74 66.93 L191.65 67.4 L192.56 67.88 L193.47 68.37 L194.38 68.87 L195.29 69.39 L196.21 69.92 L197.12 70.47 L198.03 71.04 L198.94 71.62 L199.85 72.22 L200.76 72.83 L201.68 73.45 L202.59 74.07 L203.5 74.71 L204.41 75.36 L205.32 76.01 L206.23 76.66 L207.14 77.32 L208.06 77.98 L208.97 78.64 L209.88 79.3 L210.79 79.96 L211.7 80.63 L212.61 81.3 L213.53 81.98 L214.44 82.66 L215.35 83.35 L216.26 84.06 L217.17 84.77 L218.08 85.49 L218.99 86.23 L219.91 86.99 L220.82 87.76 L221.73 88.55 L222.64 89.35 L223.55 90.17 L224.46 91.01 L225.37 91.85 L226.29 92.71 L227.2 93.59 L228.11 94.47 L229.02 95.36 L229.93 96.25 L230.84 97.15 L231.76 98.06 L232.67 98.97 L233.58 99.88 L234.49 100.79 L235.4 101.7 L236.31 102.61 L237.22 103.52 L238.14 104.44 L239.05 105.34 L239.96 106.25 L240.87 107.16 L241.78 108.06 L242.69 108.96 L243.61 109.86 L244.52 110.76 L245.43 111.65 L246.34 112.54 L247.25 113.42 L248.16 114.3 L249.07 115.17 L249.99 116.03 L250.9 116.89 L251.81 117.73 L252.72 118.57 L253.63 119.39 L254.54 120.2 L255.46 121 L256.37 121.78 L257.28 122.54 L258.19 123.29 L259.1 124.02 L260.01 124.73 L260.92 125.42 L261.84 126.09 L262.75 126.73 L263.66 127.36 L264.57 127.96 L265.48 128.54 L266.39 129.09 L267.31 129.62 L268.22 130.12 L269.13 130.59 L270.04 131.03 L270.95 131.45 L271.86 131.83 L272.77 132.19 L273.69 132.51 L274.6 132.79 L275.51 133.04 L276.42 133.24 L277.33 133.4 L278.24 133.52 L279.16 133.58 L280.07 133.6 L280.98 133.56 L281.89 133.48 L282.8 133.35 L283.71 133.17 L284.62 132.95 L285.54 132.7 L286.45 132.41 L287.36 132.08 L288.27 131.72 L289.18 131.33 L290.09 130.92 L291.01 130.48 L291.92 130.01 L292.83 129.52 L293.74 128.99 L294.65 128.44 L295.56 127.86 L296.47 127.25 L297.39 126.61 L298.3 125.94 L299.21 125.24 L300.12 124.52 L301.03 123.77 L301.94 122.99 L302.85 122.18 L303.77 121.35 L304.68 120.49 L305.59 119.61 L306.5 118.7 L307.41 117.77 L308.32 116.82 L309.24 115.84 L310.15 114.84 L311.06 113.82 L311.97 112.78 L312.88 111.73 L313.79 110.66 L314.7 109.58 L315.62 108.5 L316.53 107.41 L317.44 106.32 L318.35 105.23 L319.26 104.14 L320.17 103.05 L321.09 101.97 L322 100.9 L322.91 99.84 L323.82 98.78 L324.73 97.73 L325.64 96.68 L326.55 95.62 L327.47 94.57 L328.38 93.51 L329.29 92.44 L330.2 91.37 L331.11 90.3 L332.02 89.23 L332.94 88.17 L333.85 87.11 L334.76 86.07 L335.67 85.03 L336.58 84.01 L337.49 83.02 L338.4 82.04 L339.32 81.08 L340.23 80.15 L341.14 79.23 L342.05 78.33 L342.96 77.45 L343.87 76.59 L344.79 75.74 L345.7 74.91 L346.61 74.1 L347.52 73.3 L348.43 72.51 L349.34 71.74 L350.25 70.97 L351.17 70.22 L352.08 69.48 L352.99 68.75 L353.9 68.03 L354.81 67.32 L355.72 66.62 L356.64 65.93 L357.55 65.25 L358.46 64.58 L359.37 63.92 L360.28 63.27 L361.19 62.63 L362.1 62.01 L363.02 61.39 L363.93 60.78 L364.84 60.18 L365.75 59.59 L366.66 59.01 L367.57 58.44 L368.48 57.88 L369.4 57.33 L370.31 56.79 L371.22 56.27 L372.13 55.75 L373.04 55.25 L373.95 54.75 L374.87 54.27 L375.78 53.8 L376.69 53.35 L377.6 52.9 L378.51 52.47 L379.42 52.04 L380.33 51.63 L381.25 51.23 L382.16 50.83 L383.07 50.44 L383.98 50.07 L384.89 49.7 L385.8 49.33 L386.72 48.98 L387.63 48.63 L388.54 48.28 L389.45 47.95 L390.36 47.62 L391.27 47.29 L392.18 46.97 L393.1 46.65 L394.01 46.33 L394.92 46.02 L395.83 45.72 L396.74 45.41 L397.65 45.11 L398.57 44.8 L399.48 44.5 L400.39 44.2 L401.3 43.9" fill="none" stroke="#5E81B5" stroke-width="1.3" stroke-dasharray="4.3 2.5"/>
<path d="M37.6 32.8 L38.51 32.9 L39.42 32.99 L40.33 33.09 L41.25 33.19 L42.16 33.28 L43.07 33.38 L43.98 33.47 L44.89 33.57 L45.8 33.67 L46.72 33.76 L47.63 33.86 L48.54 33.95 L49.45 34.05 L50.36 34.14 L51.27 34.24 L52.18 34.33 L53.1 34.43 L54.01 34.53 L54.92 34.63 L55.83 34.72 L56.74 34.82 L57.65 34.92 L58.57 35.02 L59.48 35.12 L60.39 35.22 L61.3 35.32 L62.21 35.42 L63.12 35.53 L64.03 35.63 L64.95 35.74 L65.86 35.84 L66.77 35.95 L67.68 36.06 L68.59 36.17 L69.5 36.28 L70.42 36.39 L71.33 36.51 L72.24 36.62 L73.15 36.74 L74.06 36.86 L74.97 36.98 L75.88 37.1 L76.8 37.22 L77.71 37.35 L78.62 37.47 L79.53 37.6 L80.44 37.73 L81.35 37.86 L82.26 38 L83.18 38.13 L84.09 38.27 L85 38.41 L85.91 38.55 L86.82 38.7 L87.73 38.85 L88.65 39 L89.56 39.15 L90.47 39.3 L91.38 39.46 L92.29 39.61 L93.2 39.77 L94.11 39.94 L95.03 40.1 L95.94 40.27 L96.85 40.44 L97.76 40.61 L98.67 40.78 L99.58 40.96 L100.5 41.13 L101.41 41.31 L102.32 41.5 L103.23 41.68 L104.14 41.87 L105.05 42.05 L105.96 42.24 L106.88 42.44 L107.79 42.63 L108.7 42.83 L109.61 43.03 L110.52 43.23 L111.43 43.43 L112.35 43.63 L113.26 43.84 L114.17 44.05 L115.08 44.26 L115.99 44.48 L116.9 44.69 L117.81 44.91 L118.73 45.13 L119.64 45.35 L120.55 45.58 L121.46 45.8 L122.37 46.03 L123.28 46.27 L124.2 46.5 L125.11 46.74 L126.02 46.98 L126.93 47.22 L127.84 47.47 L128.75 47.71 L129.66 47.96 L130.58 48.22 L131.49 48.47 L132.4 48.73 L133.31 48.99 L134.22 49.26 L135.13 49.52 L136.05 49.79 L136.96 50.07 L137.87 50.34 L138.78 50.62 L139.69 50.91 L140.6 51.19 L141.51 51.48 L142.43 51.78 L143.34 52.08 L144.25 52.38 L145.16 52.69 L146.07 53.01 L146.98 53.33 L147.89 53.66 L148.81 53.99 L149.72 54.34 L150.63 54.68 L151.54 55.04 L152.45 55.4 L153.36 55.77 L154.28 56.15 L155.19 56.53 L156.1 56.93 L157.01 57.33 L157.92 57.74 L158.83 58.16 L159.74 58.59 L160.66 59.03 L161.57 59.48 L162.48 59.94 L163.39 60.41 L164.3 60.89 L165.21 61.38 L166.13 61.88 L167.04 62.39 L167.95 62.9 L168.86 63.42 L169.77 63.95 L170.68 64.49 L171.59 65.03 L172.51 65.58 L173.42 66.13 L174.33 66.69 L175.24 67.26 L176.15 67.83 L177.06 68.4 L177.98 68.98 L178.89 69.56 L179.8 70.14 L180.71 70.73 L181.62 71.32 L182.53 71.91 L183.44 72.5 L184.36 73.1 L185.27 73.69 L186.18 74.29 L187.09 74.89 L188 75.48 L188.91 76.09 L189.83 76.69 L190.74 77.31 L191.65 77.93 L192.56 78.57 L193.47 79.21 L194.38 79.88 L195.29 80.56 L196.21 81.26 L197.12 81.98 L198.03 82.72 L198.94 83.48 L199.85 84.26 L200.76 85.06 L201.68 85.87 L202.59 86.7 L203.5 87.54 L204.41 88.4 L205.32 89.27 L206.23 90.15 L207.14 91.05 L208.06 91.95 L208.97 92.87 L209.88 93.8 L210.79 94.73 L211.7 95.67 L212.61 96.62 L213.53 97.58 L214.44 98.54 L215.35 99.51 L216.26 100.48 L217.17 101.46 L218.08 102.44 L218.99 103.42 L219.91 104.41 L220.82 105.39 L221.73 106.38 L222.64 107.37 L223.55 108.36 L224.46 109.34 L225.37 110.32 L226.29 111.29 L227.2 112.25 L228.11 113.21 L229.02 114.16 L229.93 115.09 L230.84 116.01 L231.76 116.92 L232.67 117.81 L233.58 118.68 L234.49 119.53 L235.4 120.37 L236.31 121.18 L237.22 121.97 L238.14 122.73 L239.05 123.47 L239.96 124.19 L240.87 124.88 L241.78 125.54 L242.69 126.17 L243.61 126.77 L244.52 127.34 L245.43 127.87 L246.34 128.37 L247.25 128.84 L248.16 129.28 L249.07 129.68 L249.99 130.06 L250.9 130.41 L251.81 130.74 L252.72 131.05 L253.63 131.33 L254.54 131.6 L255.46 131.86 L256.37 132.1 L257.28 132.32 L258.19 132.53 L259.1 132.72 L260.01 132.88 L260.92 133.01 L261.84 133.11 L262.75 133.18 L263.66 133.2 L264.57 133.18 L265.48 133.11 L266.39 133 L267.31 132.84 L268.22 132.64 L269.13 132.39 L270.04 132.09 L270.95 131.74 L271.86 131.35 L272.77 130.91 L273.69 130.43 L274.6 129.9 L275.51 129.33 L276.42 128.72 L277.33 128.07 L278.24 127.39 L279.16 126.67 L280.07 125.91 L280.98 125.12 L281.89 124.31 L282.8 123.46 L283.71 122.59 L284.62 121.68 L285.54 120.76 L286.45 119.81 L287.36 118.85 L288.27 117.87 L289.18 116.87 L290.09 115.86 L291.01 114.84 L291.92 113.81 L292.83 112.77 L293.74 111.73 L294.65 110.69 L295.56 109.65 L296.47 108.62 L297.39 107.58 L298.3 106.55 L299.21 105.53 L300.12 104.51 L301.03 103.49 L301.94 102.48 L302.85 101.48 L303.77 100.47 L304.68 99.47 L305.59 98.48 L306.5 97.49 L307.41 96.5 L308.32 95.52 L309.24 94.54 L310.15 93.56 L311.06 92.59 L311.97 91.62 L312.88 90.66 L313.79 89.7 L314.7 88.74 L315.62 87.78 L316.53 86.83 L317.44 85.88 L318.35 84.94 L319.26 84 L320.17 83.06 L321.09 82.12 L322 81.19 L322.91 80.26 L323.82 79.34 L324.73 78.42 L325.64 77.51 L326.55 76.6 L327.47 75.71 L328.38 74.82 L329.29 73.95 L330.2 73.09 L331.11 72.24 L332.02 71.4 L332.94 70.58 L333.85 69.77 L334.76 68.97 L335.67 68.19 L336.58 67.43 L337.49 66.69 L338.4 65.96 L339.32 65.25 L340.23 64.55 L341.14 63.87 L342.05 63.21 L342.96 62.56 L343.87 61.93 L344.79 61.3 L345.7 60.69 L346.61 60.1 L347.52 59.51 L348.43 58.93 L349.34 58.36 L350.25 57.81 L351.17 57.26 L352.08 56.72 L352.99 56.18 L353.9 55.66 L354.81 55.14 L355.72 54.64 L356.64 54.14 L357.55 53.66 L358.46 53.18 L359.37 52.72 L360.28 52.26 L361.19 51.81 L362.1 51.38 L363.02 50.95 L363.93 50.54 L364.84 50.14 L365.75 49.74 L366.66 49.36 L367.57 48.98 L368.48 48.61 L369.4 48.25 L370.31 47.9 L371.22 47.55 L372.13 47.21 L373.04 46.87 L373.95 46.54 L374.87 46.22 L375.78 45.9 L376.69 45.58 L377.6 45.27 L378.51 44.96 L379.42 44.65 L380.33 44.35 L381.25 44.06 L382.16 43.77 L383.07 43.48 L383.98 43.2 L384.89 42.92 L385.8 42.65 L386.72 42.38 L387.63 42.12 L388.54 41.86 L389.45 41.61 L390.36 41.37 L391.27 41.13 L392.18 40.9 L393.1 40.67 L394.01 40.45 L394.92 40.23 L395.83 40.02 L396.74 39.82 L397.65 39.62 L398.57 39.43 L399.48 39.25 L400.39 39.07 L401.3 38.9" fill="none" stroke="#000" stroke-width="1.5"/>
<line x1="328.6" y1="16.5" x2="328.6" y2="137.35" stroke="#5E81B5" stroke-width="1.25"/>
<line x1="38" y1="46.6" x2="38" y2="50.4" stroke="#5E81B5" stroke-width="0.9"/>
<text x="330.9" y="129.8" font-size="12" text-anchor="start" fill="#5E81B5" textLength="33.8" lengthAdjust="spacingAndGlyphs">Pump</text>
</g>
<line x1="37.25" y1="16.5" x2="401.9" y2="16.5" stroke="#000" stroke-width="1.05"/>
<line x1="37.8" y1="16.5" x2="37.8" y2="137.35" stroke="#000" stroke-width="1.1"/>
<line x1="37.25" y1="137.35" x2="401.9" y2="137.35" stroke="#000" stroke-width="1.2"/>
<line x1="401.3" y1="16.5" x2="401.3" y2="137.35" stroke="#000" stroke-width="1.2"/>
<line x1="37.78" y1="137.35" x2="37.78" y2="134.15" stroke="#000" stroke-width="0.9"/>
<line x1="47.47" y1="137.35" x2="47.47" y2="135.65" stroke="#000" stroke-width="0.9"/>
<line x1="57.17" y1="137.35" x2="57.17" y2="135.65" stroke="#000" stroke-width="0.9"/>
<line x1="66.86" y1="137.35" x2="66.86" y2="135.65" stroke="#000" stroke-width="0.9"/>
<line x1="76.56" y1="137.35" x2="76.56" y2="135.65" stroke="#000" stroke-width="0.9"/>
<line x1="86.25" y1="137.35" x2="86.25" y2="134.15" stroke="#000" stroke-width="0.9"/>
<line x1="95.94" y1="137.35" x2="95.94" y2="135.65" stroke="#000" stroke-width="0.9"/>
<line x1="105.64" y1="137.35" x2="105.64" y2="135.65" stroke="#000" stroke-width="0.9"/>
<line x1="115.33" y1="137.35" x2="115.33" y2="135.65" stroke="#000" stroke-width="0.9"/>
<line x1="125.03" y1="137.35" x2="125.03" y2="135.65" stroke="#000" stroke-width="0.9"/>
<line x1="134.72" y1="137.35" x2="134.72" y2="134.15" stroke="#000" stroke-width="0.9"/>
<line x1="144.41" y1="137.35" x2="144.41" y2="135.65" stroke="#000" stroke-width="0.9"/>
<line x1="154.11" y1="137.35" x2="154.11" y2="135.65" stroke="#000" stroke-width="0.9"/>
<line x1="163.8" y1="137.35" x2="163.8" y2="135.65" stroke="#000" stroke-width="0.9"/>
<line x1="173.5" y1="137.35" x2="173.5" y2="135.65" stroke="#000" stroke-width="0.9"/>
<line x1="183.19" y1="137.35" x2="183.19" y2="134.15" stroke="#000" stroke-width="0.9"/>
<line x1="192.88" y1="137.35" x2="192.88" y2="135.65" stroke="#000" stroke-width="0.9"/>
<line x1="202.58" y1="137.35" x2="202.58" y2="135.65" stroke="#000" stroke-width="0.9"/>
<line x1="212.27" y1="137.35" x2="212.27" y2="135.65" stroke="#000" stroke-width="0.9"/>
<line x1="221.97" y1="137.35" x2="221.97" y2="135.65" stroke="#000" stroke-width="0.9"/>
<line x1="231.66" y1="137.35" x2="231.66" y2="134.15" stroke="#000" stroke-width="0.9"/>
<line x1="241.35" y1="137.35" x2="241.35" y2="135.65" stroke="#000" stroke-width="0.9"/>
<line x1="251.05" y1="137.35" x2="251.05" y2="135.65" stroke="#000" stroke-width="0.9"/>
<line x1="260.74" y1="137.35" x2="260.74" y2="135.65" stroke="#000" stroke-width="0.9"/>
<line x1="270.44" y1="137.35" x2="270.44" y2="135.65" stroke="#000" stroke-width="0.9"/>
<line x1="280.13" y1="137.35" x2="280.13" y2="134.15" stroke="#000" stroke-width="0.9"/>
<line x1="289.82" y1="137.35" x2="289.82" y2="135.65" stroke="#000" stroke-width="0.9"/>
<line x1="299.52" y1="137.35" x2="299.52" y2="135.65" stroke="#000" stroke-width="0.9"/>
<line x1="309.21" y1="137.35" x2="309.21" y2="135.65" stroke="#000" stroke-width="0.9"/>
<line x1="318.91" y1="137.35" x2="318.91" y2="135.65" stroke="#000" stroke-width="0.9"/>
<line x1="328.6" y1="137.35" x2="328.6" y2="134.15" stroke="#000" stroke-width="0.9"/>
<line x1="338.29" y1="137.35" x2="338.29" y2="135.65" stroke="#000" stroke-width="0.9"/>
<line x1="347.99" y1="137.35" x2="347.99" y2="135.65" stroke="#000" stroke-width="0.9"/>
<line x1="357.68" y1="137.35" x2="357.68" y2="135.65" stroke="#000" stroke-width="0.9"/>
<line x1="367.38" y1="137.35" x2="367.38" y2="135.65" stroke="#000" stroke-width="0.9"/>
<line x1="377.07" y1="137.35" x2="377.07" y2="134.15" stroke="#000" stroke-width="0.9"/>
<line x1="386.76" y1="137.35" x2="386.76" y2="135.65" stroke="#000" stroke-width="0.9"/>
<line x1="396.46" y1="137.35" x2="396.46" y2="135.65" stroke="#000" stroke-width="0.9"/>
<line x1="37.8" y1="137.35" x2="41" y2="137.35" stroke="#000" stroke-width="0.9"/>
<line x1="37.8" y1="131.31" x2="39.5" y2="131.31" stroke="#000" stroke-width="0.9"/>
<line x1="37.8" y1="125.27" x2="39.5" y2="125.27" stroke="#000" stroke-width="0.9"/>
<line x1="37.8" y1="119.22" x2="39.5" y2="119.22" stroke="#000" stroke-width="0.9"/>
<line x1="37.8" y1="113.18" x2="41" y2="113.18" stroke="#000" stroke-width="0.9"/>
<line x1="37.8" y1="107.14" x2="39.5" y2="107.14" stroke="#000" stroke-width="0.9"/>
<line x1="37.8" y1="101.09" x2="39.5" y2="101.09" stroke="#000" stroke-width="0.9"/>
<line x1="37.8" y1="95.05" x2="39.5" y2="95.05" stroke="#000" stroke-width="0.9"/>
<line x1="37.8" y1="89.01" x2="41" y2="89.01" stroke="#000" stroke-width="0.9"/>
<line x1="37.8" y1="82.97" x2="39.5" y2="82.97" stroke="#000" stroke-width="0.9"/>
<line x1="37.8" y1="76.92" x2="39.5" y2="76.92" stroke="#000" stroke-width="0.9"/>
<line x1="37.8" y1="70.88" x2="39.5" y2="70.88" stroke="#000" stroke-width="0.9"/>
<line x1="37.8" y1="64.84" x2="41" y2="64.84" stroke="#000" stroke-width="0.9"/>
<line x1="37.8" y1="58.8" x2="39.5" y2="58.8" stroke="#000" stroke-width="0.9"/>
<line x1="37.8" y1="52.75" x2="39.5" y2="52.75" stroke="#000" stroke-width="0.9"/>
<line x1="37.8" y1="46.71" x2="39.5" y2="46.71" stroke="#000" stroke-width="0.9"/>
<line x1="37.8" y1="40.67" x2="41" y2="40.67" stroke="#000" stroke-width="0.9"/>
<line x1="37.8" y1="34.63" x2="39.5" y2="34.63" stroke="#000" stroke-width="0.9"/>
<line x1="37.8" y1="28.59" x2="39.5" y2="28.59" stroke="#000" stroke-width="0.9"/>
<line x1="37.8" y1="22.54" x2="39.5" y2="22.54" stroke="#000" stroke-width="0.9"/>
<line x1="37.8" y1="16.5" x2="41" y2="16.5" stroke="#000" stroke-width="0.9"/>
<text x="34.9" y="141.55" font-size="11.8" text-anchor="end" fill="#000" textLength="14.7" lengthAdjust="spacing">0.0</text>
<text x="34.9" y="117.38" font-size="11.8" text-anchor="end" fill="#000" textLength="14.7" lengthAdjust="spacing">0.2</text>
<text x="34.9" y="93.21" font-size="11.8" text-anchor="end" fill="#000" textLength="14.7" lengthAdjust="spacing">0.4</text>
<text x="34.9" y="69.04" font-size="11.8" text-anchor="end" fill="#000" textLength="14.7" lengthAdjust="spacing">0.6</text>
<text x="34.9" y="44.87" font-size="11.8" text-anchor="end" fill="#000" textLength="14.7" lengthAdjust="spacing">0.8</text>
<text x="34.9" y="20.7" font-size="11.8" text-anchor="end" fill="#000" textLength="14.7" lengthAdjust="spacing">1.0</text>
<text x="37.28" y="149" font-size="12" text-anchor="middle" fill="#000" textLength="11.9" lengthAdjust="spacing">-6</text>
<text x="85.75" y="149" font-size="12" text-anchor="middle" fill="#000" textLength="11.9" lengthAdjust="spacing">-5</text>
<text x="134.22" y="149" font-size="12" text-anchor="middle" fill="#000" textLength="11.9" lengthAdjust="spacing">-4</text>
<text x="182.69" y="149" font-size="12" text-anchor="middle" fill="#000" textLength="11.9" lengthAdjust="spacing">-3</text>
<text x="231.16" y="149" font-size="12" text-anchor="middle" fill="#000" textLength="11.9" lengthAdjust="spacing">-2</text>
<text x="279.63" y="149" font-size="12" text-anchor="middle" fill="#000" textLength="11.9" lengthAdjust="spacing">-1</text>
<text x="328.6" y="149" font-size="12" text-anchor="middle" fill="#000">0</text>
<text x="377.07" y="149" font-size="12" text-anchor="middle" fill="#000">1</text>
<text x="104.5" y="160.3" font-size="12" text-anchor="start" fill="#000" textLength="63.8" lengthAdjust="spacingAndGlyphs">Frequency</text>
<text x="173.6" y="160.3" font-size="12" text-anchor="start" fill="#000" textLength="34.5" lengthAdjust="spacingAndGlyphs">offset</text>
<text x="212.7" y="160.3" font-size="12" text-anchor="start" fill="#000" textLength="27.9" lengthAdjust="spacingAndGlyphs">from</text>
<text x="246.6" y="160.3" font-size="12" text-anchor="start" fill="#000" textLength="33.8" lengthAdjust="spacingAndGlyphs">pump</text>
<text x="286.4" y="160.3" font-size="12" text-anchor="start" fill="#000" textLength="37" lengthAdjust="spacingAndGlyphs">(MHz)</text>
<text x="0.7" y="10.4" font-size="11.5" text-anchor="start" fill="#000" textLength="16.2" lengthAdjust="spacingAndGlyphs">(a)</text>
<text x="37.45" y="13.5" font-size="12" text-anchor="start" fill="#000" textLength="38.75" lengthAdjust="spacingAndGlyphs">Pump:</text>
<text x="82.7" y="13.5" font-size="12" text-anchor="start" fill="#000" textLength="14.6" lengthAdjust="spacingAndGlyphs">16</text>
<text x="102.7" y="13.5" font-size="12" text-anchor="start" fill="#000" textLength="23.6" lengthAdjust="spacingAndGlyphs">mW</text>
<text x="13.7" y="137.1" font-size="12" text-anchor="start" fill="#000" textLength="80.4" lengthAdjust="spacingAndGlyphs" transform="rotate(-90 13.7 137.1)">Transmission</text>
<text x="13.7" y="52.7" font-size="12" text-anchor="start" fill="#000" textLength="35.8" lengthAdjust="spacingAndGlyphs" transform="rotate(-90 13.7 52.7)">(a.u.)</text>
<line x1="146" y1="24.7" x2="157.6" y2="24.7" stroke="#5E81B5" stroke-width="1.1" stroke-dasharray="4.8 2"/>
<text x="169.5" y="28.9" font-size="12.3" text-anchor="start" fill="#000" textLength="74.1" lengthAdjust="spacingAndGlyphs">SPM-shifted</text>
<text x="248.4" y="28.9" font-size="12.3" text-anchor="start" fill="#000" textLength="62.8" lengthAdjust="spacingAndGlyphs">resonance</text>
<line x1="146" y1="41.1" x2="157.6" y2="41.1" stroke="#000" stroke-width="1"/>
<path d="M146.45 37.2a1.15 1.15 0 1 0 2.3 0a1.15 1.15 0 1 0 -2.3 0zM150.65 37.2a1.15 1.15 0 1 0 2.3 0a1.15 1.15 0 1 0 -2.3 0zM154.85 37.2a1.15 1.15 0 1 0 2.3 0a1.15 1.15 0 1 0 -2.3 0z" fill="#7d7d7d"/>
<text x="169.5" y="43.5" font-size="12.3" text-anchor="start" fill="#000" textLength="74.1" lengthAdjust="spacingAndGlyphs">XPM-shifted</text>
<text x="248.4" y="43.5" font-size="12.3" text-anchor="start" fill="#000" textLength="62.8" lengthAdjust="spacingAndGlyphs">resonance</text>
<defs>
<radialGradient id="gs" cx="50%" cy="50%" r="50%">
<stop offset="0" stop-color="#7db1dd"/>
<stop offset="0.55" stop-color="#77addb"/>
<stop offset="0.635" stop-color="#6a9fd3"/>
<stop offset="0.67" stop-color="#d5e9f8"/>
<stop offset="0.74" stop-color="#edf6fd"/>
<stop offset="0.82" stop-color="#c8dbf3"/>
<stop offset="0.90" stop-color="#93a7de"/>
<stop offset="0.96" stop-color="#5a6bb6"/>
<stop offset="1" stop-color="#3d4a98"/>
</radialGradient>
<linearGradient id="gt" x1="0" y1="0" x2="0" y2="1">
<stop offset="0" stop-color="#4ea5c4"/>
<stop offset="0.30" stop-color="#2f8fb3"/>
<stop offset="0.45" stop-color="#1a6d8f"/>
<stop offset="0.55" stop-color="#1a6d8f"/>
<stop offset="0.70" stop-color="#2f8fb3"/>
<stop offset="1" stop-color="#4ea5c4"/>
</linearGradient>
</defs>
<path d="M51.3 117.1 L69 117.1 L99 119.85 L123 119.85 L151 117.1 L168.6 117.1 L168.6 123.8 L151 123.8 L123 121.05 L99 121.05 L69 123.8 L51.3 123.8 Z" fill="#74c3de"/>
<path d="M51.3 118 L69 118 L99 120 L123 120 L151 118 L168.6 118 L168.6 122.9 L151 122.9 L123 120.9 L99 120.9 L69 122.9 L51.3 122.9 Z" fill="#3fa2c3"/>
<path d="M51.3 119.3 L69 119.3 L99 120.15 L123 120.15 L151 119.3 L168.6 119.3 L168.6 121.6 L151 121.6 L123 120.75 L99 120.75 L69 121.6 L51.3 121.6 Z" fill="#1d6a8a"/>
<circle cx="111.2" cy="100.0" r="19.8" fill="url(#gs)"/>
<text x="52" y="103.8" font-size="12.4" text-anchor="start" fill="#000" textLength="34.2" lengthAdjust="spacingAndGlyphs">Probe</text>
<text x="134.6" y="103.8" font-size="12.4" text-anchor="start" fill="#4f7fb0" textLength="34.2" lengthAdjust="spacingAndGlyphs">Pump</text>
<path d="M56.3 110.4 L65 110.4" stroke="#000" stroke-width="1.45" fill="none"/>
<path d="M68.6 110.4 L62.8 107.9 L64.0 110.4 L62.8 112.9 Z" fill="#000"/>
<path d="M147 110.7 L157.2 105.9 L157.2 108.3 L167.8 108.3 L167.8 113.1 L157.2 113.1 L157.2 115.5 Z" fill="#4577a8"/>
<g id="pb">
<path d="M37.1 199.07a1.4 1.4 0 1 0 2.8 0a1.4 1.4 0 1 0 -2.8 0zM38.35 203.17a1.4 1.4 0 1 0 2.8 0a1.4 1.4 0 1 0 -2.8 0zM39.6 203.21a1.4 1.4 0 1 0 2.8 0a1.4 1.4 0 1 0 -2.8 0zM40.85 203.8a1.4 1.4 0 1 0 2.8 0a1.4 1.4 0 1 0 -2.8 0zM42.1 204.2a1.4 1.4 0 1 0 2.8 0a1.4 1.4 0 1 0 -2.8 0zM43.35 204.34a1.4 1.4 0 1 0 2.8 0a1.4 1.4 0 1 0 -2.8 0zM44.6 205.18a1.4 1.4 0 1 0 2.8 0a1.4 1.4 0 1 0 -2.8 0zM45.85 205.45a1.4 1.4 0 1 0 2.8 0a1.4 1.4 0 1 0 -2.8 0zM47.1 206.22a1.4 1.4 0 1 0 2.8 0a1.4 1.4 0 1 0 -2.8 0zM48.35 207.21a1.4 1.4 0 1 0 2.8 0a1.4 1.4 0 1 0 -2.8 0zM49.6 209.2a1.4 1.4 0 1 0 2.8 0a1.4 1.4 0 1 0 -2.8 0zM50.85 208.77a1.4 1.4 0 1 0 2.8 0a1.4 1.4 0 1 0 -2.8 0zM52.1 208.68a1.4 1.4 0 1 0 2.8 0a1.4 1.4 0 1 0 -2.8 0zM53.35 208.69a1.4 1.4 0 1 0 2.8 0a1.4 1.4 0 1 0 -2.8 0zM54.6 209.16a1.4 1.4 0 1 0 2.8 0a1.4 1.4 0 1 0 -2.8 0zM55.85 211.91a1.4 1.4 0 1 0 2.8 0a1.4 1.4 0 1 0 -2.8 0zM57.1 211.36a1.4 1.4 0 1 0 2.8 0a1.4 1.4 0 1 0 -2.8 0zM58.35 211.46a1.4 1.4 0 1 0 2.8 0a1.4 1.4 0 1 0 -2.8 0zM59.6 211.57a1.4 1.4 0 1 0 2.8 0a1.4 1.4 0 1 0 -2.8 0zM60.85 211.33a1.4 1.4 0 1 0 2.8 0a1.4 1.4 0 1 0 -2.8 0zM62.1 212.93a1.4 1.4 0 1 0 2.8 0a1.4 1.4 0 1 0 -2.8 0zM63.35 214.45a1.4 1.4 0 1 0 2.8 0a1.4 1.4 0 1 0 -2.8 0zM64.6 213.71a1.4 1.4 0 1 0 2.8 0a1.4 1.4 0 1 0 -2.8 0zM65.85 214.45a1.4 1.4 0 1 0 2.8 0a1.4 1.4 0 1 0 -2.8 0zM67.1 215.04a1.4 1.4 0 1 0 2.8 0a1.4 1.4 0 1 0 -2.8 0zM68.35 215.97a1.4 1.4 0 1 0 2.8 0a1.4 1.4 0 1 0 -2.8 0zM69.6 214.76a1.4 1.4 0 1 0 2.8 0a1.4 1.4 0 1 0 -2.8 0zM70.85 216.78a1.4 1.4 0 1 0 2.8 0a1.4 1.4 0 1 0 -2.8 0zM72.1 216.72a1.4 1.4 0 1 0 2.8 0a1.4 1.4 0 1 0 -2.8 0zM73.35 219.19a1.4 1.4 0 1 0 2.8 0a1.4 1.4 0 1 0 -2.8 0zM74.6 218.02a1.4 1.4 0 1 0 2.8 0a1.4 1.4 0 1 0 -2.8 0zM75.85 220.1a1.4 1.4 0 1 0 2.8 0a1.4 1.4 0 1 0 -2.8 0zM77.1 221.39a1.4 1.4 0 1 0 2.8 0a1.4 1.4 0 1 0 -2.8 0zM78.35 219.08a1.4 1.4 0 1 0 2.8 0a1.4 1.4 0 1 0 -2.8 0zM79.6 218.46a1.4 1.4 0 1 0 2.8 0a1.4 1.4 0 1 0 -2.8 0zM80.85 218.89a1.4 1.4 0 1 0 2.8 0a1.4 1.4 0 1 0 -2.8 0zM82.1 217.6a1.4 1.4 0 1 0 2.8 0a1.4 1.4 0 1 0 -2.8 0zM83.35 215.43a1.4 1.4 0 1 0 2.8 0a1.4 1.4 0 1 0 -2.8 0zM84.6 216.32a1.4 1.4 0 1 0 2.8 0a1.4 1.4 0 1 0 -2.8 0zM85.85 217.43a1.4 1.4 0 1 0 2.8 0a1.4 1.4 0 1 0 -2.8 0zM87.1 215.11a1.4 1.4 0 1 0 2.8 0a1.4 1.4 0 1 0 -2.8 0zM88.35 216.74a1.4 1.4 0 1 0 2.8 0a1.4 1.4 0 1 0 -2.8 0zM89.6 216.72a1.4 1.4 0 1 0 2.8 0a1.4 1.4 0 1 0 -2.8 0zM90.85 219.09a1.4 1.4 0 1 0 2.8 0a1.4 1.4 0 1 0 -2.8 0zM92.1 218.08a1.4 1.4 0 1 0 2.8 0a1.4 1.4 0 1 0 -2.8 0zM93.35 219.16a1.4 1.4 0 1 0 2.8 0a1.4 1.4 0 1 0 -2.8 0zM94.6 223.05a1.4 1.4 0 1 0 2.8 0a1.4 1.4 0 1 0 -2.8 0zM95.85 221.43a1.4 1.4 0 1 0 2.8 0a1.4 1.4 0 1 0 -2.8 0zM97.1 225.02a1.4 1.4 0 1 0 2.8 0a1.4 1.4 0 1 0 -2.8 0zM98.35 226.85a1.4 1.4 0 1 0 2.8 0a1.4 1.4 0 1 0 -2.8 0zM99.6 226.52a1.4 1.4 0 1 0 2.8 0a1.4 1.4 0 1 0 -2.8 0zM100.85 228.19a1.4 1.4 0 1 0 2.8 0a1.4 1.4 0 1 0 -2.8 0zM102.1 234.82a1.4 1.4 0 1 0 2.8 0a1.4 1.4 0 1 0 -2.8 0zM103.35 229.68a1.4 1.4 0 1 0 2.8 0a1.4 1.4 0 1 0 -2.8 0zM104.6 230.4a1.4 1.4 0 1 0 2.8 0a1.4 1.4 0 1 0 -2.8 0zM105.85 230.55a1.4 1.4 0 1 0 2.8 0a1.4 1.4 0 1 0 -2.8 0zM107.1 233.49a1.4 1.4 0 1 0 2.8 0a1.4 1.4 0 1 0 -2.8 0zM108.35 239.58a1.4 1.4 0 1 0 2.8 0a1.4 1.4 0 1 0 -2.8 0zM109.6 236.86a1.4 1.4 0 1 0 2.8 0a1.4 1.4 0 1 0 -2.8 0zM110.85 235.09a1.4 1.4 0 1 0 2.8 0a1.4 1.4 0 1 0 -2.8 0zM112.1 236.26a1.4 1.4 0 1 0 2.8 0a1.4 1.4 0 1 0 -2.8 0zM113.35 237.86a1.4 1.4 0 1 0 2.8 0a1.4 1.4 0 1 0 -2.8 0zM114.6 240.18a1.4 1.4 0 1 0 2.8 0a1.4 1.4 0 1 0 -2.8 0zM115.85 240.53a1.4 1.4 0 1 0 2.8 0a1.4 1.4 0 1 0 -2.8 0zM117.1 242.32a1.4 1.4 0 1 0 2.8 0a1.4 1.4 0 1 0 -2.8 0zM118.35 243.61a1.4 1.4 0 1 0 2.8 0a1.4 1.4 0 1 0 -2.8 0zM119.6 243.79a1.4 1.4 0 1 0 2.8 0a1.4 1.4 0 1 0 -2.8 0zM120.85 245.36a1.4 1.4 0 1 0 2.8 0a1.4 1.4 0 1 0 -2.8 0zM122.1 246.93a1.4 1.4 0 1 0 2.8 0a1.4 1.4 0 1 0 -2.8 0zM123.35 247.63a1.4 1.4 0 1 0 2.8 0a1.4 1.4 0 1 0 -2.8 0zM124.6 249.81a1.4 1.4 0 1 0 2.8 0a1.4 1.4 0 1 0 -2.8 0zM125.85 253.35a1.4 1.4 0 1 0 2.8 0a1.4 1.4 0 1 0 -2.8 0zM127.1 252.4a1.4 1.4 0 1 0 2.8 0a1.4 1.4 0 1 0 -2.8 0zM128.35 252.72a1.4 1.4 0 1 0 2.8 0a1.4 1.4 0 1 0 -2.8 0zM129.6 250.95a1.4 1.4 0 1 0 2.8 0a1.4 1.4 0 1 0 -2.8 0zM130.85 255.79a1.4 1.4 0 1 0 2.8 0a1.4 1.4 0 1 0 -2.8 0zM132.1 252.97a1.4 1.4 0 1 0 2.8 0a1.4 1.4 0 1 0 -2.8 0zM133.35 255.17a1.4 1.4 0 1 0 2.8 0a1.4 1.4 0 1 0 -2.8 0zM134.6 260.43a1.4 1.4 0 1 0 2.8 0a1.4 1.4 0 1 0 -2.8 0zM135.85 261.46a1.4 1.4 0 1 0 2.8 0a1.4 1.4 0 1 0 -2.8 0zM137.1 261.23a1.4 1.4 0 1 0 2.8 0a1.4 1.4 0 1 0 -2.8 0zM138.35 259.75a1.4 1.4 0 1 0 2.8 0a1.4 1.4 0 1 0 -2.8 0zM139.6 263.42a1.4 1.4 0 1 0 2.8 0a1.4 1.4 0 1 0 -2.8 0zM140.85 264.16a1.4 1.4 0 1 0 2.8 0a1.4 1.4 0 1 0 -2.8 0zM142.1 267.79a1.4 1.4 0 1 0 2.8 0a1.4 1.4 0 1 0 -2.8 0zM143.35 271.94a1.4 1.4 0 1 0 2.8 0a1.4 1.4 0 1 0 -2.8 0zM144.6 269.61a1.4 1.4 0 1 0 2.8 0a1.4 1.4 0 1 0 -2.8 0zM145.85 269.14a1.4 1.4 0 1 0 2.8 0a1.4 1.4 0 1 0 -2.8 0zM147.1 269.73a1.4 1.4 0 1 0 2.8 0a1.4 1.4 0 1 0 -2.8 0zM148.35 272.93a1.4 1.4 0 1 0 2.8 0a1.4 1.4 0 1 0 -2.8 0zM149.6 273.96a1.4 1.4 0 1 0 2.8 0a1.4 1.4 0 1 0 -2.8 0zM150.85 273.54a1.4 1.4 0 1 0 2.8 0a1.4 1.4 0 1 0 -2.8 0zM152.1 276.9a1.4 1.4 0 1 0 2.8 0a1.4 1.4 0 1 0 -2.8 0zM153.35 275.99a1.4 1.4 0 1 0 2.8 0a1.4 1.4 0 1 0 -2.8 0zM154.6 280.84a1.4 1.4 0 1 0 2.8 0a1.4 1.4 0 1 0 -2.8 0zM155.85 281.85a1.4 1.4 0 1 0 2.8 0a1.4 1.4 0 1 0 -2.8 0zM157.1 282.93a1.4 1.4 0 1 0 2.8 0a1.4 1.4 0 1 0 -2.8 0zM158.35 281.58a1.4 1.4 0 1 0 2.8 0a1.4 1.4 0 1 0 -2.8 0zM159.6 284.05a1.4 1.4 0 1 0 2.8 0a1.4 1.4 0 1 0 -2.8 0zM160.85 284.06a1.4 1.4 0 1 0 2.8 0a1.4 1.4 0 1 0 -2.8 0zM162.1 284.62a1.4 1.4 0 1 0 2.8 0a1.4 1.4 0 1 0 -2.8 0zM163.35 285.55a1.4 1.4 0 1 0 2.8 0a1.4 1.4 0 1 0 -2.8 0zM164.6 285.15a1.4 1.4 0 1 0 2.8 0a1.4 1.4 0 1 0 -2.8 0zM165.85 285.77a1.4 1.4 0 1 0 2.8 0a1.4 1.4 0 1 0 -2.8 0zM167.1 289.09a1.4 1.4 0 1 0 2.8 0a1.4 1.4 0 1 0 -2.8 0zM168.35 288.57a1.4 1.4 0 1 0 2.8 0a1.4 1.4 0 1 0 -2.8 0zM169.6 289.55a1.4 1.4 0 1 0 2.8 0a1.4 1.4 0 1 0 -2.8 0zM170.85 290.81a1.4 1.4 0 1 0 2.8 0a1.4 1.4 0 1 0 -2.8 0zM172.1 288.53a1.4 1.4 0 1 0 2.8 0a1.4 1.4 0 1 0 -2.8 0zM173.35 289.83a1.4 1.4 0 1 0 2.8 0a1.4 1.4 0 1 0 -2.8 0zM174.6 291a1.4 1.4 0 1 0 2.8 0a1.4 1.4 0 1 0 -2.8 0zM175.85 291.39a1.4 1.4 0 1 0 2.8 0a1.4 1.4 0 1 0 -2.8 0zM177.1 290.86a1.4 1.4 0 1 0 2.8 0a1.4 1.4 0 1 0 -2.8 0zM178.35 292.12a1.4 1.4 0 1 0 2.8 0a1.4 1.4 0 1 0 -2.8 0zM179.6 291.41a1.4 1.4 0 1 0 2.8 0a1.4 1.4 0 1 0 -2.8 0zM180.85 290.1a1.4 1.4 0 1 0 2.8 0a1.4 1.4 0 1 0 -2.8 0zM182.1 290.16a1.4 1.4 0 1 0 2.8 0a1.4 1.4 0 1 0 -2.8 0zM183.35 291.47a1.4 1.4 0 1 0 2.8 0a1.4 1.4 0 1 0 -2.8 0zM184.6 287.87a1.4 1.4 0 1 0 2.8 0a1.4 1.4 0 1 0 -2.8 0zM185.85 288.19a1.4 1.4 0 1 0 2.8 0a1.4 1.4 0 1 0 -2.8 0zM187.1 290.98a1.4 1.4 0 1 0 2.8 0a1.4 1.4 0 1 0 -2.8 0zM188.35 289.72a1.4 1.4 0 1 0 2.8 0a1.4 1.4 0 1 0 -2.8 0zM189.6 290a1.4 1.4 0 1 0 2.8 0a1.4 1.4 0 1 0 -2.8 0zM190.85 287.4a1.4 1.4 0 1 0 2.8 0a1.4 1.4 0 1 0 -2.8 0zM192.1 286.77a1.4 1.4 0 1 0 2.8 0a1.4 1.4 0 1 0 -2.8 0zM193.35 284.92a1.4 1.4 0 1 0 2.8 0a1.4 1.4 0 1 0 -2.8 0zM194.6 288.89a1.4 1.4 0 1 0 2.8 0a1.4 1.4 0 1 0 -2.8 0zM195.85 284.41a1.4 1.4 0 1 0 2.8 0a1.4 1.4 0 1 0 -2.8 0zM197.1 285.97a1.4 1.4 0 1 0 2.8 0a1.4 1.4 0 1 0 -2.8 0zM198.35 281.78a1.4 1.4 0 1 0 2.8 0a1.4 1.4 0 1 0 -2.8 0zM199.6 281.93a1.4 1.4 0 1 0 2.8 0a1.4 1.4 0 1 0 -2.8 0zM200.85 277.97a1.4 1.4 0 1 0 2.8 0a1.4 1.4 0 1 0 -2.8 0zM202.1 278.83a1.4 1.4 0 1 0 2.8 0a1.4 1.4 0 1 0 -2.8 0zM203.35 279.88a1.4 1.4 0 1 0 2.8 0a1.4 1.4 0 1 0 -2.8 0zM204.6 274.89a1.4 1.4 0 1 0 2.8 0a1.4 1.4 0 1 0 -2.8 0zM205.85 277.61a1.4 1.4 0 1 0 2.8 0a1.4 1.4 0 1 0 -2.8 0zM207.1 275.02a1.4 1.4 0 1 0 2.8 0a1.4 1.4 0 1 0 -2.8 0zM208.35 271.12a1.4 1.4 0 1 0 2.8 0a1.4 1.4 0 1 0 -2.8 0zM209.6 270.69a1.4 1.4 0 1 0 2.8 0a1.4 1.4 0 1 0 -2.8 0zM210.85 269.29a1.4 1.4 0 1 0 2.8 0a1.4 1.4 0 1 0 -2.8 0zM212.1 268.57a1.4 1.4 0 1 0 2.8 0a1.4 1.4 0 1 0 -2.8 0zM213.35 266.04a1.4 1.4 0 1 0 2.8 0a1.4 1.4 0 1 0 -2.8 0zM214.6 263.84a1.4 1.4 0 1 0 2.8 0a1.4 1.4 0 1 0 -2.8 0zM215.85 263.3a1.4 1.4 0 1 0 2.8 0a1.4 1.4 0 1 0 -2.8 0zM217.1 260.12a1.4 1.4 0 1 0 2.8 0a1.4 1.4 0 1 0 -2.8 0zM218.35 257.89a1.4 1.4 0 1 0 2.8 0a1.4 1.4 0 1 0 -2.8 0zM219.6 258.88a1.4 1.4 0 1 0 2.8 0a1.4 1.4 0 1 0 -2.8 0zM220.85 259.2a1.4 1.4 0 1 0 2.8 0a1.4 1.4 0 1 0 -2.8 0zM222.1 252.36a1.4 1.4 0 1 0 2.8 0a1.4 1.4 0 1 0 -2.8 0zM223.35 253.98a1.4 1.4 0 1 0 2.8 0a1.4 1.4 0 1 0 -2.8 0zM224.6 250.94a1.4 1.4 0 1 0 2.8 0a1.4 1.4 0 1 0 -2.8 0zM225.85 248.62a1.4 1.4 0 1 0 2.8 0a1.4 1.4 0 1 0 -2.8 0zM227.1 250.83a1.4 1.4 0 1 0 2.8 0a1.4 1.4 0 1 0 -2.8 0zM228.35 246.39a1.4 1.4 0 1 0 2.8 0a1.4 1.4 0 1 0 -2.8 0zM229.6 248.89a1.4 1.4 0 1 0 2.8 0a1.4 1.4 0 1 0 -2.8 0zM230.85 242.71a1.4 1.4 0 1 0 2.8 0a1.4 1.4 0 1 0 -2.8 0zM232.1 243.47a1.4 1.4 0 1 0 2.8 0a1.4 1.4 0 1 0 -2.8 0zM233.35 240.74a1.4 1.4 0 1 0 2.8 0a1.4 1.4 0 1 0 -2.8 0zM234.6 238.26a1.4 1.4 0 1 0 2.8 0a1.4 1.4 0 1 0 -2.8 0zM235.85 239.32a1.4 1.4 0 1 0 2.8 0a1.4 1.4 0 1 0 -2.8 0zM237.1 236.53a1.4 1.4 0 1 0 2.8 0a1.4 1.4 0 1 0 -2.8 0zM238.35 236.5a1.4 1.4 0 1 0 2.8 0a1.4 1.4 0 1 0 -2.8 0zM239.6 234.01a1.4 1.4 0 1 0 2.8 0a1.4 1.4 0 1 0 -2.8 0zM240.85 230.94a1.4 1.4 0 1 0 2.8 0a1.4 1.4 0 1 0 -2.8 0zM242.1 231.34a1.4 1.4 0 1 0 2.8 0a1.4 1.4 0 1 0 -2.8 0zM243.35 230.35a1.4 1.4 0 1 0 2.8 0a1.4 1.4 0 1 0 -2.8 0zM244.6 230.71a1.4 1.4 0 1 0 2.8 0a1.4 1.4 0 1 0 -2.8 0zM245.85 226.7a1.4 1.4 0 1 0 2.8 0a1.4 1.4 0 1 0 -2.8 0zM247.1 227.05a1.4 1.4 0 1 0 2.8 0a1.4 1.4 0 1 0 -2.8 0zM248.35 223.49a1.4 1.4 0 1 0 2.8 0a1.4 1.4 0 1 0 -2.8 0zM249.6 226.13a1.4 1.4 0 1 0 2.8 0a1.4 1.4 0 1 0 -2.8 0zM250.85 222.59a1.4 1.4 0 1 0 2.8 0a1.4 1.4 0 1 0 -2.8 0zM252.1 220.61a1.4 1.4 0 1 0 2.8 0a1.4 1.4 0 1 0 -2.8 0zM253.35 222.27a1.4 1.4 0 1 0 2.8 0a1.4 1.4 0 1 0 -2.8 0zM254.6 223.05a1.4 1.4 0 1 0 2.8 0a1.4 1.4 0 1 0 -2.8 0zM255.85 218.42a1.4 1.4 0 1 0 2.8 0a1.4 1.4 0 1 0 -2.8 0zM257.1 218.3a1.4 1.4 0 1 0 2.8 0a1.4 1.4 0 1 0 -2.8 0zM258.35 218.18a1.4 1.4 0 1 0 2.8 0a1.4 1.4 0 1 0 -2.8 0zM259.6 217.07a1.4 1.4 0 1 0 2.8 0a1.4 1.4 0 1 0 -2.8 0zM260.85 218.56a1.4 1.4 0 1 0 2.8 0a1.4 1.4 0 1 0 -2.8 0zM262.1 216.4a1.4 1.4 0 1 0 2.8 0a1.4 1.4 0 1 0 -2.8 0zM263.35 215.98a1.4 1.4 0 1 0 2.8 0a1.4 1.4 0 1 0 -2.8 0zM264.6 212.68a1.4 1.4 0 1 0 2.8 0a1.4 1.4 0 1 0 -2.8 0zM265.85 214.92a1.4 1.4 0 1 0 2.8 0a1.4 1.4 0 1 0 -2.8 0zM267.1 215.87a1.4 1.4 0 1 0 2.8 0a1.4 1.4 0 1 0 -2.8 0zM268.35 213.39a1.4 1.4 0 1 0 2.8 0a1.4 1.4 0 1 0 -2.8 0zM269.6 212.42a1.4 1.4 0 1 0 2.8 0a1.4 1.4 0 1 0 -2.8 0zM270.85 211a1.4 1.4 0 1 0 2.8 0a1.4 1.4 0 1 0 -2.8 0zM272.1 214.95a1.4 1.4 0 1 0 2.8 0a1.4 1.4 0 1 0 -2.8 0zM273.35 211.62a1.4 1.4 0 1 0 2.8 0a1.4 1.4 0 1 0 -2.8 0zM274.6 211.69a1.4 1.4 0 1 0 2.8 0a1.4 1.4 0 1 0 -2.8 0zM275.85 210.75a1.4 1.4 0 1 0 2.8 0a1.4 1.4 0 1 0 -2.8 0zM277.1 210.38a1.4 1.4 0 1 0 2.8 0a1.4 1.4 0 1 0 -2.8 0zM278.35 209.68a1.4 1.4 0 1 0 2.8 0a1.4 1.4 0 1 0 -2.8 0zM279.6 211.28a1.4 1.4 0 1 0 2.8 0a1.4 1.4 0 1 0 -2.8 0zM280.85 207.32a1.4 1.4 0 1 0 2.8 0a1.4 1.4 0 1 0 -2.8 0zM282.1 206.21a1.4 1.4 0 1 0 2.8 0a1.4 1.4 0 1 0 -2.8 0zM283.35 206.34a1.4 1.4 0 1 0 2.8 0a1.4 1.4 0 1 0 -2.8 0zM284.6 205.36a1.4 1.4 0 1 0 2.8 0a1.4 1.4 0 1 0 -2.8 0zM285.85 207.01a1.4 1.4 0 1 0 2.8 0a1.4 1.4 0 1 0 -2.8 0zM287.1 206.44a1.4 1.4 0 1 0 2.8 0a1.4 1.4 0 1 0 -2.8 0zM288.35 203.91a1.4 1.4 0 1 0 2.8 0a1.4 1.4 0 1 0 -2.8 0zM289.6 202.86a1.4 1.4 0 1 0 2.8 0a1.4 1.4 0 1 0 -2.8 0zM290.85 203.37a1.4 1.4 0 1 0 2.8 0a1.4 1.4 0 1 0 -2.8 0zM292.1 204.62a1.4 1.4 0 1 0 2.8 0a1.4 1.4 0 1 0 -2.8 0zM293.35 199.68a1.4 1.4 0 1 0 2.8 0a1.4 1.4 0 1 0 -2.8 0zM294.6 202.59a1.4 1.4 0 1 0 2.8 0a1.4 1.4 0 1 0 -2.8 0zM295.85 200.39a1.4 1.4 0 1 0 2.8 0a1.4 1.4 0 1 0 -2.8 0zM297.1 202.02a1.4 1.4 0 1 0 2.8 0a1.4 1.4 0 1 0 -2.8 0zM298.35 199.32a1.4 1.4 0 1 0 2.8 0a1.4 1.4 0 1 0 -2.8 0zM299.6 199.58a1.4 1.4 0 1 0 2.8 0a1.4 1.4 0 1 0 -2.8 0zM300.85 197.8a1.4 1.4 0 1 0 2.8 0a1.4 1.4 0 1 0 -2.8 0zM302.1 197.8a1.4 1.4 0 1 0 2.8 0a1.4 1.4 0 1 0 -2.8 0zM303.35 199.62a1.4 1.4 0 1 0 2.8 0a1.4 1.4 0 1 0 -2.8 0zM304.6 198.54a1.4 1.4 0 1 0 2.8 0a1.4 1.4 0 1 0 -2.8 0zM305.85 196.84a1.4 1.4 0 1 0 2.8 0a1.4 1.4 0 1 0 -2.8 0zM307.1 195.91a1.4 1.4 0 1 0 2.8 0a1.4 1.4 0 1 0 -2.8 0zM308.35 194.47a1.4 1.4 0 1 0 2.8 0a1.4 1.4 0 1 0 -2.8 0zM309.6 195.45a1.4 1.4 0 1 0 2.8 0a1.4 1.4 0 1 0 -2.8 0zM310.85 195.37a1.4 1.4 0 1 0 2.8 0a1.4 1.4 0 1 0 -2.8 0zM312.1 194.91a1.4 1.4 0 1 0 2.8 0a1.4 1.4 0 1 0 -2.8 0zM313.35 194.5a1.4 1.4 0 1 0 2.8 0a1.4 1.4 0 1 0 -2.8 0zM314.6 193.18a1.4 1.4 0 1 0 2.8 0a1.4 1.4 0 1 0 -2.8 0zM315.85 193.77a1.4 1.4 0 1 0 2.8 0a1.4 1.4 0 1 0 -2.8 0zM317.1 193.43a1.4 1.4 0 1 0 2.8 0a1.4 1.4 0 1 0 -2.8 0zM318.35 194.27a1.4 1.4 0 1 0 2.8 0a1.4 1.4 0 1 0 -2.8 0zM319.6 194.43a1.4 1.4 0 1 0 2.8 0a1.4 1.4 0 1 0 -2.8 0zM320.85 192.26a1.4 1.4 0 1 0 2.8 0a1.4 1.4 0 1 0 -2.8 0zM322.1 191.33a1.4 1.4 0 1 0 2.8 0a1.4 1.4 0 1 0 -2.8 0zM323.35 181.8a1.4 1.4 0 1 0 2.8 0a1.4 1.4 0 1 0 -2.8 0zM324.6 190.74a1.4 1.4 0 1 0 2.8 0a1.4 1.4 0 1 0 -2.8 0zM325.85 190.26a1.4 1.4 0 1 0 2.8 0a1.4 1.4 0 1 0 -2.8 0zM327.1 190.57a1.4 1.4 0 1 0 2.8 0a1.4 1.4 0 1 0 -2.8 0zM328.35 189.46a1.4 1.4 0 1 0 2.8 0a1.4 1.4 0 1 0 -2.8 0zM329.6 190.71a1.4 1.4 0 1 0 2.8 0a1.4 1.4 0 1 0 -2.8 0zM330.85 189.89a1.4 1.4 0 1 0 2.8 0a1.4 1.4 0 1 0 -2.8 0zM332.1 190.02a1.4 1.4 0 1 0 2.8 0a1.4 1.4 0 1 0 -2.8 0zM333.35 189.47a1.4 1.4 0 1 0 2.8 0a1.4 1.4 0 1 0 -2.8 0zM334.6 188.84a1.4 1.4 0 1 0 2.8 0a1.4 1.4 0 1 0 -2.8 0zM335.85 188.5a1.4 1.4 0 1 0 2.8 0a1.4 1.4 0 1 0 -2.8 0zM337.1 188.97a1.4 1.4 0 1 0 2.8 0a1.4 1.4 0 1 0 -2.8 0zM338.35 188.57a1.4 1.4 0 1 0 2.8 0a1.4 1.4 0 1 0 -2.8 0zM339.6 189.11a1.4 1.4 0 1 0 2.8 0a1.4 1.4 0 1 0 -2.8 0zM340.85 188.77a1.4 1.4 0 1 0 2.8 0a1.4 1.4 0 1 0 -2.8 0zM342.1 187.46a1.4 1.4 0 1 0 2.8 0a1.4 1.4 0 1 0 -2.8 0zM343.35 188.56a1.4 1.4 0 1 0 2.8 0a1.4 1.4 0 1 0 -2.8 0zM344.6 187.19a1.4 1.4 0 1 0 2.8 0a1.4 1.4 0 1 0 -2.8 0zM345.85 187.68a1.4 1.4 0 1 0 2.8 0a1.4 1.4 0 1 0 -2.8 0zM347.1 187.82a1.4 1.4 0 1 0 2.8 0a1.4 1.4 0 1 0 -2.8 0zM348.35 186.14a1.4 1.4 0 1 0 2.8 0a1.4 1.4 0 1 0 -2.8 0zM349.6 187.68a1.4 1.4 0 1 0 2.8 0a1.4 1.4 0 1 0 -2.8 0zM350.85 187.36a1.4 1.4 0 1 0 2.8 0a1.4 1.4 0 1 0 -2.8 0zM352.1 186.72a1.4 1.4 0 1 0 2.8 0a1.4 1.4 0 1 0 -2.8 0zM353.35 186.11a1.4 1.4 0 1 0 2.8 0a1.4 1.4 0 1 0 -2.8 0zM354.6 185.79a1.4 1.4 0 1 0 2.8 0a1.4 1.4 0 1 0 -2.8 0zM355.85 184.89a1.4 1.4 0 1 0 2.8 0a1.4 1.4 0 1 0 -2.8 0zM357.1 185.14a1.4 1.4 0 1 0 2.8 0a1.4 1.4 0 1 0 -2.8 0zM358.35 184.53a1.4 1.4 0 1 0 2.8 0a1.4 1.4 0 1 0 -2.8 0zM359.6 184.73a1.4 1.4 0 1 0 2.8 0a1.4 1.4 0 1 0 -2.8 0zM360.85 183.25a1.4 1.4 0 1 0 2.8 0a1.4 1.4 0 1 0 -2.8 0zM362.1 184.14a1.4 1.4 0 1 0 2.8 0a1.4 1.4 0 1 0 -2.8 0zM363.35 184.1a1.4 1.4 0 1 0 2.8 0a1.4 1.4 0 1 0 -2.8 0zM364.6 184.17a1.4 1.4 0 1 0 2.8 0a1.4 1.4 0 1 0 -2.8 0zM365.85 184.23a1.4 1.4 0 1 0 2.8 0a1.4 1.4 0 1 0 -2.8 0zM367.1 185.4a1.4 1.4 0 1 0 2.8 0a1.4 1.4 0 1 0 -2.8 0zM368.35 183.81a1.4 1.4 0 1 0 2.8 0a1.4 1.4 0 1 0 -2.8 0zM369.6 186.28a1.4 1.4 0 1 0 2.8 0a1.4 1.4 0 1 0 -2.8 0zM370.85 186.81a1.4 1.4 0 1 0 2.8 0a1.4 1.4 0 1 0 -2.8 0zM372.1 187.57a1.4 1.4 0 1 0 2.8 0a1.4 1.4 0 1 0 -2.8 0zM373.35 188.38a1.4 1.4 0 1 0 2.8 0a1.4 1.4 0 1 0 -2.8 0zM374.6 188.21a1.4 1.4 0 1 0 2.8 0a1.4 1.4 0 1 0 -2.8 0zM375.85 188.76a1.4 1.4 0 1 0 2.8 0a1.4 1.4 0 1 0 -2.8 0zM377.1 189.74a1.4 1.4 0 1 0 2.8 0a1.4 1.4 0 1 0 -2.8 0zM378.35 189.77a1.4 1.4 0 1 0 2.8 0a1.4 1.4 0 1 0 -2.8 0zM379.6 189.79a1.4 1.4 0 1 0 2.8 0a1.4 1.4 0 1 0 -2.8 0zM380.85 188.52a1.4 1.4 0 1 0 2.8 0a1.4 1.4 0 1 0 -2.8 0zM382.1 190.5a1.4 1.4 0 1 0 2.8 0a1.4 1.4 0 1 0 -2.8 0zM383.35 190.98a1.4 1.4 0 1 0 2.8 0a1.4 1.4 0 1 0 -2.8 0zM384.6 190.59a1.4 1.4 0 1 0 2.8 0a1.4 1.4 0 1 0 -2.8 0zM385.85 189.68a1.4 1.4 0 1 0 2.8 0a1.4 1.4 0 1 0 -2.8 0zM387.1 187.9a1.4 1.4 0 1 0 2.8 0a1.4 1.4 0 1 0 -2.8 0zM388.35 189.8a1.4 1.4 0 1 0 2.8 0a1.4 1.4 0 1 0 -2.8 0zM389.6 188.62a1.4 1.4 0 1 0 2.8 0a1.4 1.4 0 1 0 -2.8 0zM390.85 186.29a1.4 1.4 0 1 0 2.8 0a1.4 1.4 0 1 0 -2.8 0zM392.1 188.28a1.4 1.4 0 1 0 2.8 0a1.4 1.4 0 1 0 -2.8 0zM393.35 186.19a1.4 1.4 0 1 0 2.8 0a1.4 1.4 0 1 0 -2.8 0zM394.6 185.86a1.4 1.4 0 1 0 2.8 0a1.4 1.4 0 1 0 -2.8 0zM395.85 185.94a1.4 1.4 0 1 0 2.8 0a1.4 1.4 0 1 0 -2.8 0zM397.1 187.16a1.4 1.4 0 1 0 2.8 0a1.4 1.4 0 1 0 -2.8 0zM398.35 185.48a1.4 1.4 0 1 0 2.8 0a1.4 1.4 0 1 0 -2.8 0z" fill="#7d7d7d"/>
<path d="M37.6 187.3 L38.51 187.39 L39.42 187.48 L40.33 187.57 L41.25 187.65 L42.16 187.74 L43.07 187.83 L43.98 187.92 L44.89 188.01 L45.8 188.09 L46.72 188.18 L47.63 188.27 L48.54 188.36 L49.45 188.45 L50.36 188.54 L51.27 188.62 L52.18 188.71 L53.1 188.8 L54.01 188.89 L54.92 188.98 L55.83 189.07 L56.74 189.16 L57.65 189.25 L58.57 189.34 L59.48 189.44 L60.39 189.53 L61.3 189.62 L62.21 189.71 L63.12 189.81 L64.03 189.9 L64.95 189.99 L65.86 190.09 L66.77 190.18 L67.68 190.28 L68.59 190.38 L69.5 190.47 L70.42 190.57 L71.33 190.67 L72.24 190.77 L73.15 190.87 L74.06 190.97 L74.97 191.07 L75.88 191.18 L76.8 191.28 L77.71 191.38 L78.62 191.49 L79.53 191.59 L80.44 191.7 L81.35 191.81 L82.26 191.92 L83.18 192.03 L84.09 192.14 L85 192.25 L85.91 192.36 L86.82 192.48 L87.73 192.59 L88.65 192.71 L89.56 192.83 L90.47 192.95 L91.38 193.07 L92.29 193.19 L93.2 193.31 L94.11 193.43 L95.03 193.56 L95.94 193.68 L96.85 193.81 L97.76 193.94 L98.67 194.07 L99.58 194.2 L100.5 194.33 L101.41 194.46 L102.32 194.6 L103.23 194.74 L104.14 194.87 L105.05 195.01 L105.96 195.15 L106.88 195.29 L107.79 195.44 L108.7 195.58 L109.61 195.73 L110.52 195.87 L111.43 196.02 L112.35 196.17 L113.26 196.32 L114.17 196.48 L115.08 196.63 L115.99 196.79 L116.9 196.95 L117.81 197.1 L118.73 197.27 L119.64 197.43 L120.55 197.59 L121.46 197.76 L122.37 197.93 L123.28 198.1 L124.2 198.27 L125.11 198.45 L126.02 198.62 L126.93 198.8 L127.84 198.98 L128.75 199.17 L129.66 199.35 L130.58 199.54 L131.49 199.73 L132.4 199.92 L133.31 200.12 L134.22 200.32 L135.13 200.52 L136.05 200.72 L136.96 200.93 L137.87 201.13 L138.78 201.34 L139.69 201.56 L140.6 201.77 L141.51 201.99 L142.43 202.21 L143.34 202.44 L144.25 202.67 L145.16 202.9 L146.07 203.13 L146.98 203.37 L147.89 203.61 L148.81 203.86 L149.72 204.1 L150.63 204.35 L151.54 204.61 L152.45 204.87 L153.36 205.13 L154.28 205.39 L155.19 205.66 L156.1 205.94 L157.01 206.21 L157.92 206.49 L158.83 206.78 L159.74 207.07 L160.66 207.36 L161.57 207.65 L162.48 207.96 L163.39 208.26 L164.3 208.57 L165.21 208.89 L166.13 209.2 L167.04 209.53 L167.95 209.86 L168.86 210.19 L169.77 210.53 L170.68 210.88 L171.59 211.23 L172.51 211.59 L173.42 211.96 L174.33 212.33 L175.24 212.71 L176.15 213.09 L177.06 213.48 L177.98 213.88 L178.89 214.29 L179.8 214.7 L180.71 215.13 L181.62 215.56 L182.53 215.99 L183.44 216.44 L184.36 216.9 L185.27 217.36 L186.18 217.83 L187.09 218.31 L188 218.8 L188.91 219.3 L189.83 219.81 L190.74 220.33 L191.65 220.85 L192.56 221.38 L193.47 221.93 L194.38 222.48 L195.29 223.03 L196.21 223.6 L197.12 224.17 L198.03 224.75 L198.94 225.34 L199.85 225.94 L200.76 226.54 L201.68 227.15 L202.59 227.77 L203.5 228.4 L204.41 229.04 L205.32 229.69 L206.23 230.35 L207.14 231.02 L208.06 231.71 L208.97 232.41 L209.88 233.12 L210.79 233.85 L211.7 234.59 L212.61 235.36 L213.53 236.14 L214.44 236.93 L215.35 237.75 L216.26 238.58 L217.17 239.42 L218.08 240.28 L218.99 241.16 L219.91 242.04 L220.82 242.94 L221.73 243.85 L222.64 244.77 L223.55 245.69 L224.46 246.63 L225.37 247.57 L226.29 248.53 L227.2 249.48 L228.11 250.45 L229.02 251.42 L229.93 252.39 L230.84 253.37 L231.76 254.36 L232.67 255.35 L233.58 256.34 L234.49 257.34 L235.4 258.34 L236.31 259.34 L237.22 260.34 L238.14 261.35 L239.05 262.36 L239.96 263.36 L240.87 264.37 L241.78 265.37 L242.69 266.37 L243.61 267.36 L244.52 268.34 L245.43 269.32 L246.34 270.28 L247.25 271.23 L248.16 272.17 L249.07 273.09 L249.99 274 L250.9 274.88 L251.81 275.75 L252.72 276.6 L253.63 277.43 L254.54 278.25 L255.46 279.04 L256.37 279.82 L257.28 280.58 L258.19 281.32 L259.1 282.04 L260.01 282.74 L260.92 283.43 L261.84 284.1 L262.75 284.75 L263.66 285.39 L264.57 286 L265.48 286.6 L266.39 287.17 L267.31 287.72 L268.22 288.23 L269.13 288.72 L270.04 289.17 L270.95 289.58 L271.86 289.95 L272.77 290.28 L273.69 290.56 L274.6 290.81 L275.51 291.01 L276.42 291.17 L277.33 291.28 L278.24 291.36 L279.16 291.4 L280.07 291.39 L280.98 291.35 L281.89 291.26 L282.8 291.13 L283.71 290.96 L284.62 290.75 L285.54 290.5 L286.45 290.2 L287.36 289.86 L288.27 289.47 L289.18 289.04 L290.09 288.56 L291.01 288.05 L291.92 287.49 L292.83 286.89 L293.74 286.25 L294.65 285.57 L295.56 284.86 L296.47 284.11 L297.39 283.33 L298.3 282.51 L299.21 281.66 L300.12 280.78 L301.03 279.86 L301.94 278.92 L302.85 277.95 L303.77 276.96 L304.68 275.95 L305.59 274.92 L306.5 273.88 L307.41 272.83 L308.32 271.77 L309.24 270.7 L310.15 269.63 L311.06 268.56 L311.97 267.48 L312.88 266.41 L313.79 265.33 L314.7 264.25 L315.62 263.17 L316.53 262.08 L317.44 260.98 L318.35 259.88 L319.26 258.77 L320.17 257.66 L321.09 256.53 L322 255.4 L322.91 254.27 L323.82 253.13 L324.73 252 L325.64 250.88 L326.55 249.76 L327.47 248.65 L328.38 247.56 L329.29 246.49 L330.2 245.44 L331.11 244.4 L332.02 243.38 L332.94 242.37 L333.85 241.38 L334.76 240.4 L335.67 239.44 L336.58 238.49 L337.49 237.55 L338.4 236.63 L339.32 235.71 L340.23 234.81 L341.14 233.91 L342.05 233.02 L342.96 232.14 L343.87 231.27 L344.79 230.4 L345.7 229.54 L346.61 228.69 L347.52 227.85 L348.43 227.02 L349.34 226.2 L350.25 225.38 L351.17 224.58 L352.08 223.79 L352.99 223.01 L353.9 222.24 L354.81 221.48 L355.72 220.74 L356.64 220 L357.55 219.28 L358.46 218.58 L359.37 217.88 L360.28 217.2 L361.19 216.54 L362.1 215.88 L363.02 215.24 L363.93 214.62 L364.84 214.01 L365.75 213.41 L366.66 212.83 L367.57 212.26 L368.48 211.71 L369.4 211.17 L370.31 210.65 L371.22 210.14 L372.13 209.64 L373.04 209.16 L373.95 208.69 L374.87 208.22 L375.78 207.78 L376.69 207.34 L377.6 206.91 L378.51 206.49 L379.42 206.08 L380.33 205.67 L381.25 205.28 L382.16 204.89 L383.07 204.51 L383.98 204.13 L384.89 203.77 L385.8 203.41 L386.72 203.06 L387.63 202.72 L388.54 202.38 L389.45 202.05 L390.36 201.73 L391.27 201.41 L392.18 201.1 L393.1 200.8 L394.01 200.51 L394.92 200.22 L395.83 199.94 L396.74 199.67 L397.65 199.4 L398.57 199.14 L399.48 198.89 L400.39 198.64 L401.3 198.4" fill="none" stroke="#5E81B5" stroke-width="1.3" stroke-dasharray="4.3 2.5"/>
<path d="M37.6 201 L38.51 201.34 L39.42 201.67 L40.33 202 L41.25 202.33 L42.16 202.65 L43.07 202.97 L43.98 203.28 L44.89 203.59 L45.8 203.9 L46.72 204.2 L47.63 204.51 L48.54 204.81 L49.45 205.12 L50.36 205.42 L51.27 205.72 L52.18 206.02 L53.1 206.33 L54.01 206.63 L54.92 206.94 L55.83 207.25 L56.74 207.56 L57.65 207.88 L58.57 208.19 L59.48 208.52 L60.39 208.84 L61.3 209.17 L62.21 209.51 L63.12 209.85 L64.03 210.2 L64.95 210.55 L65.86 210.9 L66.77 211.26 L67.68 211.63 L68.59 212 L69.5 212.37 L70.42 212.75 L71.33 213.13 L72.24 213.52 L73.15 213.91 L74.06 214.3 L74.97 214.7 L75.88 215.1 L76.8 215.51 L77.71 215.92 L78.62 216.33 L79.53 216.75 L80.44 217.17 L81.35 217.59 L82.26 218.02 L83.18 218.45 L84.09 218.88 L85 219.32 L85.91 219.76 L86.82 220.2 L87.73 220.65 L88.65 221.1 L89.56 221.56 L90.47 222.02 L91.38 222.49 L92.29 222.96 L93.2 223.45 L94.11 223.94 L95.03 224.45 L95.94 224.96 L96.85 225.49 L97.76 226.03 L98.67 226.58 L99.58 227.15 L100.5 227.73 L101.41 228.33 L102.32 228.93 L103.23 229.56 L104.14 230.19 L105.05 230.84 L105.96 231.5 L106.88 232.17 L107.79 232.85 L108.7 233.55 L109.61 234.26 L110.52 234.98 L111.43 235.71 L112.35 236.45 L113.26 237.2 L114.17 237.96 L115.08 238.73 L115.99 239.52 L116.9 240.31 L117.81 241.11 L118.73 241.92 L119.64 242.74 L120.55 243.57 L121.46 244.41 L122.37 245.26 L123.28 246.11 L124.2 246.98 L125.11 247.85 L126.02 248.73 L126.93 249.61 L127.84 250.51 L128.75 251.41 L129.66 252.31 L130.58 253.22 L131.49 254.14 L132.4 255.06 L133.31 255.99 L134.22 256.92 L135.13 257.85 L136.05 258.79 L136.96 259.73 L137.87 260.68 L138.78 261.62 L139.69 262.57 L140.6 263.52 L141.51 264.47 L142.43 265.42 L143.34 266.37 L144.25 267.31 L145.16 268.26 L146.07 269.2 L146.98 270.13 L147.89 271.07 L148.81 271.99 L149.72 272.92 L150.63 273.83 L151.54 274.74 L152.45 275.64 L153.36 276.52 L154.28 277.4 L155.19 278.26 L156.1 279.1 L157.01 279.93 L157.92 280.74 L158.83 281.53 L159.74 282.29 L160.66 283.03 L161.57 283.75 L162.48 284.44 L163.39 285.1 L164.3 285.73 L165.21 286.33 L166.13 286.9 L167.04 287.44 L167.95 287.94 L168.86 288.42 L169.77 288.86 L170.68 289.27 L171.59 289.64 L172.51 289.98 L173.42 290.29 L174.33 290.56 L175.24 290.79 L176.15 290.99 L177.06 291.15 L177.98 291.27 L178.89 291.35 L179.8 291.39 L180.71 291.4 L181.62 291.36 L182.53 291.28 L183.44 291.16 L184.36 291.01 L185.27 290.81 L186.18 290.58 L187.09 290.31 L188 290 L188.91 289.65 L189.83 289.27 L190.74 288.86 L191.65 288.4 L192.56 287.92 L193.47 287.4 L194.38 286.85 L195.29 286.27 L196.21 285.66 L197.12 285.02 L198.03 284.36 L198.94 283.66 L199.85 282.94 L200.76 282.2 L201.68 281.43 L202.59 280.64 L203.5 279.82 L204.41 278.98 L205.32 278.12 L206.23 277.23 L207.14 276.32 L208.06 275.38 L208.97 274.42 L209.88 273.43 L210.79 272.43 L211.7 271.39 L212.61 270.34 L213.53 269.26 L214.44 268.15 L215.35 267.03 L216.26 265.89 L217.17 264.74 L218.08 263.57 L218.99 262.39 L219.91 261.2 L220.82 260.01 L221.73 258.81 L222.64 257.61 L223.55 256.42 L224.46 255.22 L225.37 254.03 L226.29 252.85 L227.2 251.68 L228.11 250.52 L229.02 249.36 L229.93 248.22 L230.84 247.1 L231.76 245.98 L232.67 244.88 L233.58 243.8 L234.49 242.73 L235.4 241.68 L236.31 240.65 L237.22 239.64 L238.14 238.65 L239.05 237.68 L239.96 236.74 L240.87 235.81 L241.78 234.9 L242.69 234.01 L243.61 233.13 L244.52 232.27 L245.43 231.43 L246.34 230.6 L247.25 229.79 L248.16 228.99 L249.07 228.21 L249.99 227.43 L250.9 226.67 L251.81 225.92 L252.72 225.17 L253.63 224.44 L254.54 223.72 L255.46 223.01 L256.37 222.3 L257.28 221.61 L258.19 220.93 L259.1 220.25 L260.01 219.58 L260.92 218.93 L261.84 218.28 L262.75 217.63 L263.66 217 L264.57 216.38 L265.48 215.76 L266.39 215.15 L267.31 214.55 L268.22 213.95 L269.13 213.37 L270.04 212.79 L270.95 212.22 L271.86 211.65 L272.77 211.1 L273.69 210.55 L274.6 210.01 L275.51 209.47 L276.42 208.94 L277.33 208.42 L278.24 207.91 L279.16 207.41 L280.07 206.91 L280.98 206.42 L281.89 205.94 L282.8 205.47 L283.71 205.01 L284.62 204.56 L285.54 204.12 L286.45 203.68 L287.36 203.26 L288.27 202.85 L289.18 202.44 L290.09 202.04 L291.01 201.65 L291.92 201.27 L292.83 200.89 L293.74 200.52 L294.65 200.16 L295.56 199.8 L296.47 199.45 L297.39 199.1 L298.3 198.75 L299.21 198.41 L300.12 198.07 L301.03 197.73 L301.94 197.4 L302.85 197.08 L303.77 196.76 L304.68 196.44 L305.59 196.14 L306.5 195.84 L307.41 195.54 L308.32 195.26 L309.24 194.99 L310.15 194.72 L311.06 194.47 L311.97 194.22 L312.88 193.99 L313.79 193.76 L314.7 193.55 L315.62 193.34 L316.53 193.13 L317.44 192.93 L318.35 192.74 L319.26 192.55 L320.17 192.36 L321.09 192.17 L322 191.98 L322.91 191.79 L323.82 191.6 L324.73 191.4 L325.64 191.21 L326.55 191.01 L327.47 190.82 L328.38 190.64 L329.29 190.47 L330.2 190.31 L331.11 190.16 L332.02 190.02 L332.94 189.88 L333.85 189.75 L334.76 189.63 L335.67 189.51 L336.58 189.4 L337.49 189.29 L338.4 189.19 L339.32 189.09 L340.23 188.99 L341.14 188.89 L342.05 188.79 L342.96 188.69 L343.87 188.59 L344.79 188.49 L345.7 188.39 L346.61 188.29 L347.52 188.19 L348.43 188.08 L349.34 187.98 L350.25 187.88 L351.17 187.77 L352.08 187.67 L352.99 187.57 L353.9 187.47 L354.81 187.37 L355.72 187.26 L356.64 187.16 L357.55 187.07 L358.46 186.97 L359.37 186.87 L360.28 186.77 L361.19 186.68 L362.1 186.59 L363.02 186.49 L363.93 186.4 L364.84 186.31 L365.75 186.22 L366.66 186.13 L367.57 186.04 L368.48 185.95 L369.4 185.87 L370.31 185.78 L371.22 185.7 L372.13 185.62 L373.04 185.53 L373.95 185.45 L374.87 185.37 L375.78 185.29 L376.69 185.21 L377.6 185.14 L378.51 185.06 L379.42 184.99 L380.33 184.91 L381.25 184.84 L382.16 184.77 L383.07 184.7 L383.98 184.63 L384.89 184.56 L385.8 184.49 L386.72 184.43 L387.63 184.36 L388.54 184.29 L389.45 184.23 L390.36 184.17 L391.27 184.11 L392.18 184.05 L393.1 183.99 L394.01 183.93 L394.92 183.87 L395.83 183.82 L396.74 183.76 L397.65 183.71 L398.57 183.65 L399.48 183.6 L400.39 183.55 L401.3 183.5" fill="none" stroke="#000" stroke-width="1.5"/>
<line x1="328.6" y1="179.5" x2="328.6" y2="300.35" stroke="#5E81B5" stroke-width="1.25"/>
<text x="330.9" y="292.3" font-size="12" text-anchor="start" fill="#5E81B5" textLength="33.8" lengthAdjust="spacingAndGlyphs">Pump</text>
</g>
<line x1="37.25" y1="179.5" x2="401.9" y2="179.5" stroke="#000" stroke-width="1.05"/>
<line x1="37.8" y1="179.5" x2="37.8" y2="300.35" stroke="#000" stroke-width="1.1"/>
<line x1="37.25" y1="300.35" x2="401.9" y2="300.35" stroke="#000" stroke-width="1.2"/>
<line x1="401.3" y1="179.5" x2="401.3" y2="300.35" stroke="#000" stroke-width="1.2"/>
<line x1="37.78" y1="300.35" x2="37.78" y2="297.15" stroke="#000" stroke-width="0.9"/>
<line x1="47.47" y1="300.35" x2="47.47" y2="298.65" stroke="#000" stroke-width="0.9"/>
<line x1="57.17" y1="300.35" x2="57.17" y2="298.65" stroke="#000" stroke-width="0.9"/>
<line x1="66.86" y1="300.35" x2="66.86" y2="298.65" stroke="#000" stroke-width="0.9"/>
<line x1="76.56" y1="300.35" x2="76.56" y2="298.65" stroke="#000" stroke-width="0.9"/>
<line x1="86.25" y1="300.35" x2="86.25" y2="297.15" stroke="#000" stroke-width="0.9"/>
<line x1="95.94" y1="300.35" x2="95.94" y2="298.65" stroke="#000" stroke-width="0.9"/>
<line x1="105.64" y1="300.35" x2="105.64" y2="298.65" stroke="#000" stroke-width="0.9"/>
<line x1="115.33" y1="300.35" x2="115.33" y2="298.65" stroke="#000" stroke-width="0.9"/>
<line x1="125.03" y1="300.35" x2="125.03" y2="298.65" stroke="#000" stroke-width="0.9"/>
<line x1="134.72" y1="300.35" x2="134.72" y2="297.15" stroke="#000" stroke-width="0.9"/>
<line x1="144.41" y1="300.35" x2="144.41" y2="298.65" stroke="#000" stroke-width="0.9"/>
<line x1="154.11" y1="300.35" x2="154.11" y2="298.65" stroke="#000" stroke-width="0.9"/>
<line x1="163.8" y1="300.35" x2="163.8" y2="298.65" stroke="#000" stroke-width="0.9"/>
<line x1="173.5" y1="300.35" x2="173.5" y2="298.65" stroke="#000" stroke-width="0.9"/>
<line x1="183.19" y1="300.35" x2="183.19" y2="297.15" stroke="#000" stroke-width="0.9"/>
<line x1="192.88" y1="300.35" x2="192.88" y2="298.65" stroke="#000" stroke-width="0.9"/>
<line x1="202.58" y1="300.35" x2="202.58" y2="298.65" stroke="#000" stroke-width="0.9"/>
<line x1="212.27" y1="300.35" x2="212.27" y2="298.65" stroke="#000" stroke-width="0.9"/>
<line x1="221.97" y1="300.35" x2="221.97" y2="298.65" stroke="#000" stroke-width="0.9"/>
<line x1="231.66" y1="300.35" x2="231.66" y2="297.15" stroke="#000" stroke-width="0.9"/>
<line x1="241.35" y1="300.35" x2="241.35" y2="298.65" stroke="#000" stroke-width="0.9"/>
<line x1="251.05" y1="300.35" x2="251.05" y2="298.65" stroke="#000" stroke-width="0.9"/>
<line x1="260.74" y1="300.35" x2="260.74" y2="298.65" stroke="#000" stroke-width="0.9"/>
<line x1="270.44" y1="300.35" x2="270.44" y2="298.65" stroke="#000" stroke-width="0.9"/>
<line x1="280.13" y1="300.35" x2="280.13" y2="297.15" stroke="#000" stroke-width="0.9"/>
<line x1="289.82" y1="300.35" x2="289.82" y2="298.65" stroke="#000" stroke-width="0.9"/>
<line x1="299.52" y1="300.35" x2="299.52" y2="298.65" stroke="#000" stroke-width="0.9"/>
<line x1="309.21" y1="300.35" x2="309.21" y2="298.65" stroke="#000" stroke-width="0.9"/>
<line x1="318.91" y1="300.35" x2="318.91" y2="298.65" stroke="#000" stroke-width="0.9"/>
<line x1="328.6" y1="300.35" x2="328.6" y2="297.15" stroke="#000" stroke-width="0.9"/>
<line x1="338.29" y1="300.35" x2="338.29" y2="298.65" stroke="#000" stroke-width="0.9"/>
<line x1="347.99" y1="300.35" x2="347.99" y2="298.65" stroke="#000" stroke-width="0.9"/>
<line x1="357.68" y1="300.35" x2="357.68" y2="298.65" stroke="#000" stroke-width="0.9"/>
<line x1="367.38" y1="300.35" x2="367.38" y2="298.65" stroke="#000" stroke-width="0.9"/>
<line x1="377.07" y1="300.35" x2="377.07" y2="297.15" stroke="#000" stroke-width="0.9"/>
<line x1="386.76" y1="300.35" x2="386.76" y2="298.65" stroke="#000" stroke-width="0.9"/>
<line x1="396.46" y1="300.35" x2="396.46" y2="298.65" stroke="#000" stroke-width="0.9"/>
<line x1="37.8" y1="300.35" x2="41" y2="300.35" stroke="#000" stroke-width="0.9"/>
<line x1="37.8" y1="294.31" x2="39.5" y2="294.31" stroke="#000" stroke-width="0.9"/>
<line x1="37.8" y1="288.27" x2="39.5" y2="288.27" stroke="#000" stroke-width="0.9"/>
<line x1="37.8" y1="282.22" x2="39.5" y2="282.22" stroke="#000" stroke-width="0.9"/>
<line x1="37.8" y1="276.18" x2="41" y2="276.18" stroke="#000" stroke-width="0.9"/>
<line x1="37.8" y1="270.14" x2="39.5" y2="270.14" stroke="#000" stroke-width="0.9"/>
<line x1="37.8" y1="264.1" x2="39.5" y2="264.1" stroke="#000" stroke-width="0.9"/>
<line x1="37.8" y1="258.05" x2="39.5" y2="258.05" stroke="#000" stroke-width="0.9"/>
<line x1="37.8" y1="252.01" x2="41" y2="252.01" stroke="#000" stroke-width="0.9"/>
<line x1="37.8" y1="245.97" x2="39.5" y2="245.97" stroke="#000" stroke-width="0.9"/>
<line x1="37.8" y1="239.93" x2="39.5" y2="239.93" stroke="#000" stroke-width="0.9"/>
<line x1="37.8" y1="233.88" x2="39.5" y2="233.88" stroke="#000" stroke-width="0.9"/>
<line x1="37.8" y1="227.84" x2="41" y2="227.84" stroke="#000" stroke-width="0.9"/>
<line x1="37.8" y1="221.8" x2="39.5" y2="221.8" stroke="#000" stroke-width="0.9"/>
<line x1="37.8" y1="215.75" x2="39.5" y2="215.75" stroke="#000" stroke-width="0.9"/>
<line x1="37.8" y1="209.71" x2="39.5" y2="209.71" stroke="#000" stroke-width="0.9"/>
<line x1="37.8" y1="203.67" x2="41" y2="203.67" stroke="#000" stroke-width="0.9"/>
<line x1="37.8" y1="197.63" x2="39.5" y2="197.63" stroke="#000" stroke-width="0.9"/>
<line x1="37.8" y1="191.59" x2="39.5" y2="191.59" stroke="#000" stroke-width="0.9"/>
<line x1="37.8" y1="185.54" x2="39.5" y2="185.54" stroke="#000" stroke-width="0.9"/>
<line x1="37.8" y1="179.5" x2="41" y2="179.5" stroke="#000" stroke-width="0.9"/>
<text x="34.9" y="304.55" font-size="11.8" text-anchor="end" fill="#000" textLength="14.7" lengthAdjust="spacing">0.0</text>
<text x="34.9" y="280.38" font-size="11.8" text-anchor="end" fill="#000" textLength="14.7" lengthAdjust="spacing">0.2</text>
<text x="34.9" y="256.21" font-size="11.8" text-anchor="end" fill="#000" textLength="14.7" lengthAdjust="spacing">0.4</text>
<text x="34.9" y="232.04" font-size="11.8" text-anchor="end" fill="#000" textLength="14.7" lengthAdjust="spacing">0.6</text>
<text x="34.9" y="207.87" font-size="11.8" text-anchor="end" fill="#000" textLength="14.7" lengthAdjust="spacing">0.8</text>
<text x="34.9" y="183.7" font-size="11.8" text-anchor="end" fill="#000" textLength="14.7" lengthAdjust="spacing">1.0</text>
<text x="37.28" y="313.1" font-size="12" text-anchor="middle" fill="#000" textLength="11.9" lengthAdjust="spacing">-6</text>
<text x="85.75" y="313.1" font-size="12" text-anchor="middle" fill="#000" textLength="11.9" lengthAdjust="spacing">-5</text>
<text x="134.22" y="313.1" font-size="12" text-anchor="middle" fill="#000" textLength="11.9" lengthAdjust="spacing">-4</text>
<text x="182.69" y="313.1" font-size="12" text-anchor="middle" fill="#000" textLength="11.9" lengthAdjust="spacing">-3</text>
<text x="231.16" y="313.1" font-size="12" text-anchor="middle" fill="#000" textLength="11.9" lengthAdjust="spacing">-2</text>
<text x="279.63" y="313.1" font-size="12" text-anchor="middle" fill="#000" textLength="11.9" lengthAdjust="spacing">-1</text>
<text x="328.6" y="313.1" font-size="12" text-anchor="middle" fill="#000">0</text>
<text x="377.07" y="313.1" font-size="12" text-anchor="middle" fill="#000">1</text>
<text x="104.1" y="323.8" font-size="12" text-anchor="start" fill="#000" textLength="63.8" lengthAdjust="spacingAndGlyphs">Frequency</text>
<text x="173.2" y="323.8" font-size="12" text-anchor="start" fill="#000" textLength="34.5" lengthAdjust="spacingAndGlyphs">offset</text>
<text x="212.3" y="323.8" font-size="12" text-anchor="start" fill="#000" textLength="27.9" lengthAdjust="spacingAndGlyphs">from</text>
<text x="246.2" y="323.8" font-size="12" text-anchor="start" fill="#000" textLength="33.8" lengthAdjust="spacingAndGlyphs">pump</text>
<text x="286" y="323.8" font-size="12" text-anchor="start" fill="#000" textLength="37" lengthAdjust="spacingAndGlyphs">(MHz)</text>
<text x="0" y="168.5" font-size="12.2" text-anchor="start" fill="#000" textLength="17.6" lengthAdjust="spacingAndGlyphs">(b)</text>
<text x="37.2" y="176.8" font-size="12" text-anchor="start" fill="#000" textLength="37.9" lengthAdjust="spacingAndGlyphs">Pump:</text>
<text x="82.3" y="176.8" font-size="12" text-anchor="start" fill="#000" textLength="14.3" lengthAdjust="spacingAndGlyphs">78</text>
<text x="102.3" y="176.8" font-size="12" text-anchor="start" fill="#000" textLength="23.1" lengthAdjust="spacingAndGlyphs">mW</text>
<text x="13.7" y="301.2" font-size="12" text-anchor="start" fill="#000" textLength="80.4" lengthAdjust="spacingAndGlyphs" transform="rotate(-90 13.7 301.2)">Transmission</text>
<text x="13.7" y="216.8" font-size="12" text-anchor="start" fill="#000" textLength="35.8" lengthAdjust="spacingAndGlyphs" transform="rotate(-90 13.7 216.8)">(a.u.)</text>
<clipPath id="cc"><rect x="451.4" y="17" width="297.95" height="155.2"/></clipPath>
<g clip-path="url(#cc)">
<line x1="451.4" y1="17" x2="749.35" y2="118.3" stroke="#666666" stroke-width="1"/>
<line x1="451.4" y1="59.8" x2="749.35" y2="161.1" stroke="#5E81B5" stroke-width="1.25"/>
<line x1="451.4" y1="73.8" x2="749.35" y2="175.1" stroke="#E19C24" stroke-width="1.25"/>
<line x1="451.4" y1="87.7" x2="749.35" y2="189" stroke="#8FB032" stroke-width="1.25"/>
<line x1="451.4" y1="101.9" x2="749.35" y2="203.2" stroke="#EB6235" stroke-width="1.25"/>
<line x1="451.4" y1="116.1" x2="749.35" y2="217.4" stroke="#8778B3" stroke-width="1.25"/>
<line x1="451.4" y1="130.1" x2="749.35" y2="231.4" stroke="#C56E1A" stroke-width="1.25"/>
<path d="M508.37 78.5H510.63M509.5 77.9V79.1M508.37 77.3V79.7M510.63 77.3V79.7M508.3 77.9H510.7M508.3 79.1H510.7M537.1 91.8H540.5M538.8 91.2V92.4M537.1 90.6V93M540.5 90.6V93M537.6 91.2H540M537.6 92.4H540M566.31 102.3H570.89M568.6 101.7V102.9M566.31 101.1V103.5M570.89 101.1V103.5M567.4 101.7H569.8M567.4 102.9H569.8M594.75 112.4H600.45M597.6 111.8V113M594.75 111.2V113.6M600.45 111.2V113.6M596.4 111.8H598.8M596.4 113H598.8M621.71 119.4H628.49M625.1 118.8V120M621.71 118.2V120.6M628.49 118.2V120.6M623.9 118.8H626.3M623.9 120H626.3M640.64 125H648.16M644.4 124.4V125.6M640.64 123.8V126.2M648.16 123.8V126.2M643.2 124.4H645.6M643.2 125.6H645.6M679.27 138.1H688.33M683.8 137.5V138.7M679.27 136.9V139.3M688.33 136.9V139.3M682.6 137.5H685M682.6 138.7H685M707.7 148.3H717.9M712.8 147.7V148.9M707.7 147.1V149.5M717.9 147.1V149.5M711.6 147.7H714M711.6 148.9H714M736.33 154.1H747.67M742 153.5V154.7M736.33 152.9V155.3M747.67 152.9V155.3M740.8 153.5H743.2M740.8 154.7H743.2" stroke="#5E81B5" stroke-width="0.8" fill="none"/>
<path d="M507.95 78.5a1.55 1.55 0 1 0 3.1 0a1.55 1.55 0 1 0 -3.1 0zM537.25 91.8a1.55 1.55 0 1 0 3.1 0a1.55 1.55 0 1 0 -3.1 0zM567.05 102.3a1.55 1.55 0 1 0 3.1 0a1.55 1.55 0 1 0 -3.1 0zM596.05 112.4a1.55 1.55 0 1 0 3.1 0a1.55 1.55 0 1 0 -3.1 0zM623.55 119.4a1.55 1.55 0 1 0 3.1 0a1.55 1.55 0 1 0 -3.1 0zM642.85 125a1.55 1.55 0 1 0 3.1 0a1.55 1.55 0 1 0 -3.1 0zM682.25 138.1a1.55 1.55 0 1 0 3.1 0a1.55 1.55 0 1 0 -3.1 0zM711.25 148.3a1.55 1.55 0 1 0 3.1 0a1.55 1.55 0 1 0 -3.1 0zM740.45 154.1a1.55 1.55 0 1 0 3.1 0a1.55 1.55 0 1 0 -3.1 0z" fill="#5E81B5"/>
<path d="M497.19 91.8H499.01M498.1 90.8V92.8M497.19 90.6V93M499.01 90.6V93M496.9 90.8H499.3M496.9 92.8H499.3M519.94 100.3H522.66M521.3 99.3V101.3M519.94 99.1V101.5M522.66 99.1V101.5M520.1 99.3H522.5M520.1 101.3H522.5M543.37 109H547.03M545.2 108V110M543.37 107.8V110.2M547.03 107.8V110.2M544 108H546.4M544 110H546.4M566.02 115H570.58M568.3 114V116M566.02 113.8V116.2M570.58 113.8V116.2M567.1 114H569.5M567.1 116H569.5M588.08 119.7H593.52M590.8 118.7V120.7M588.08 118.5V120.9M593.52 118.5V120.9M589.6 118.7H592M589.6 120.7H592M601.42 125.8H607.38M604.4 124.8V126.8M601.42 124.6V127M607.38 124.6V127M603.2 124.8H605.6M603.2 126.8H605.6M633.87 135.3H641.13M637.5 134.3V136.3M633.87 134.1V136.5M641.13 134.1V136.5M636.3 134.3H638.7M636.3 136.3H638.7M656.52 146.2H664.68M660.6 145.2V147.2M656.52 145V147.4M664.68 145V147.4M659.4 145.2H661.8M659.4 147.2H661.8M679.17 150.3H688.23M683.7 149.3V151.3M679.17 149.1V151.5M688.23 149.1V151.5M682.5 149.3H684.9M682.5 151.3H684.9" stroke="#E19C24" stroke-width="0.8" fill="none"/>
<path d="M496.55 91.8a1.55 1.55 0 1 0 3.1 0a1.55 1.55 0 1 0 -3.1 0zM519.75 100.3a1.55 1.55 0 1 0 3.1 0a1.55 1.55 0 1 0 -3.1 0zM543.65 109a1.55 1.55 0 1 0 3.1 0a1.55 1.55 0 1 0 -3.1 0zM566.75 115a1.55 1.55 0 1 0 3.1 0a1.55 1.55 0 1 0 -3.1 0zM589.25 119.7a1.55 1.55 0 1 0 3.1 0a1.55 1.55 0 1 0 -3.1 0zM602.85 125.8a1.55 1.55 0 1 0 3.1 0a1.55 1.55 0 1 0 -3.1 0zM635.95 135.3a1.55 1.55 0 1 0 3.1 0a1.55 1.55 0 1 0 -3.1 0zM659.05 146.2a1.55 1.55 0 1 0 3.1 0a1.55 1.55 0 1 0 -3.1 0zM682.15 150.3a1.55 1.55 0 1 0 3.1 0a1.55 1.55 0 1 0 -3.1 0z" fill="#E19C24"/>
<path d="M486.8 101.5H488.2M487.5 99.9V103.1M486.8 100.3V102.7M488.2 100.3V102.7M486.3 99.9H488.7M486.3 103.1H488.7M504.84 105.6H506.96M505.9 104V107.2M504.84 104.4V106.8M506.96 104.4V106.8M504.7 104H507.1M504.7 107.2H507.1M523.07 113.5H525.93M524.5 111.9V115.1M523.07 112.3V114.7M525.93 112.3V114.7M523.3 111.9H525.7M523.3 115.1H525.7M540.72 118.8H544.28M542.5 117.2V120.4M540.72 117.6V120M544.28 117.6V120M541.3 117.2H543.7M541.3 120.4H543.7M558.08 124.8H562.32M560.2 123.2V126.4M558.08 123.6V126M562.32 123.6V126M559 123.2H561.4M559 126.4H561.4M569.16 129H573.84M571.5 127.4V130.6M569.16 127.8V130.2M573.84 127.8V130.2M570.3 127.4H572.7M570.3 130.6H572.7M593.77 135.4H599.43M596.6 133.8V137M593.77 134.2V136.6M599.43 134.2V136.6M595.4 133.8H597.8M595.4 137H597.8M612.3 144.7H618.7M615.5 143.1V146.3M612.3 143.5V145.9M618.7 143.5V145.9M614.3 143.1H616.7M614.3 146.3H616.7M629.95 148.1H637.05M633.5 146.5V149.7M629.95 146.9V149.3M637.05 146.9V149.3M632.3 146.5H634.7M632.3 149.7H634.7" stroke="#8FB032" stroke-width="0.8" fill="none"/>
<path d="M485.95 101.5a1.55 1.55 0 1 0 3.1 0a1.55 1.55 0 1 0 -3.1 0zM504.35 105.6a1.55 1.55 0 1 0 3.1 0a1.55 1.55 0 1 0 -3.1 0zM522.95 113.5a1.55 1.55 0 1 0 3.1 0a1.55 1.55 0 1 0 -3.1 0zM540.95 118.8a1.55 1.55 0 1 0 3.1 0a1.55 1.55 0 1 0 -3.1 0zM558.65 124.8a1.55 1.55 0 1 0 3.1 0a1.55 1.55 0 1 0 -3.1 0zM569.95 129a1.55 1.55 0 1 0 3.1 0a1.55 1.55 0 1 0 -3.1 0zM595.05 135.4a1.55 1.55 0 1 0 3.1 0a1.55 1.55 0 1 0 -3.1 0zM613.95 144.7a1.55 1.55 0 1 0 3.1 0a1.55 1.55 0 1 0 -3.1 0zM631.95 148.1a1.55 1.55 0 1 0 3.1 0a1.55 1.55 0 1 0 -3.1 0z" fill="#8FB032"/>
<path d="M478.8 110.3H480.2M479.5 107.7V112.9M478.8 109.1V111.5M480.2 109.1V111.5M478.3 107.7H480.7M478.3 112.9H480.7M493.07 114.1H494.73M493.9 111.5V116.7M493.07 112.9V115.3M494.73 112.9V115.3M492.7 111.5H495.1M492.7 116.7H495.1M507.48 121.5H509.72M508.6 118.9V124.1M507.48 120.3V122.7M509.72 120.3V122.7M507.4 118.9H509.8M507.4 124.1H509.8M521.31 126.6H524.09M522.7 124V129.2M521.31 125.4V127.8M524.09 125.4V127.8M521.5 124H523.9M521.5 129.2H523.9M534.74 129.2H538.06M536.4 126.6V131.8M534.74 128V130.4M538.06 128V130.4M535.2 126.6H537.6M535.2 131.8H537.6M543.57 132H547.23M545.4 129.4V134.6M543.57 130.8V133.2M547.23 130.8V133.2M544.2 129.4H546.6M544.2 134.6H546.6M562.29 140H566.71M564.5 137.4V142.6M562.29 138.8V141.2M566.71 138.8V141.2M563.3 137.4H565.7M563.3 142.6H565.7M576.71 148.2H581.69M579.2 145.6V150.8M576.71 147V149.4M581.69 147V149.4M578 145.6H580.4M578 150.8H580.4M590.83 149.1H596.37M593.6 146.5V151.7M590.83 147.9V150.3M596.37 147.9V150.3M592.4 146.5H594.8M592.4 151.7H594.8" stroke="#EB6235" stroke-width="0.8" fill="none"/>
<path d="M477.95 110.3a1.55 1.55 0 1 0 3.1 0a1.55 1.55 0 1 0 -3.1 0zM492.35 114.1a1.55 1.55 0 1 0 3.1 0a1.55 1.55 0 1 0 -3.1 0zM507.05 121.5a1.55 1.55 0 1 0 3.1 0a1.55 1.55 0 1 0 -3.1 0zM521.15 126.6a1.55 1.55 0 1 0 3.1 0a1.55 1.55 0 1 0 -3.1 0zM534.85 129.2a1.55 1.55 0 1 0 3.1 0a1.55 1.55 0 1 0 -3.1 0zM543.85 132a1.55 1.55 0 1 0 3.1 0a1.55 1.55 0 1 0 -3.1 0zM562.95 140a1.55 1.55 0 1 0 3.1 0a1.55 1.55 0 1 0 -3.1 0zM577.65 148.2a1.55 1.55 0 1 0 3.1 0a1.55 1.55 0 1 0 -3.1 0zM592.05 149.1a1.55 1.55 0 1 0 3.1 0a1.55 1.55 0 1 0 -3.1 0z" fill="#EB6235"/>
<path d="M484 124.8H485.4M484.7 121.4V128.2M484 123.6V126M485.4 123.6V126M483.5 121.4H485.9M483.5 128.2H485.9M495.62 129.2H497.38M496.5 125.8V132.6M495.62 128V130.4M497.38 128V130.4M495.3 125.8H497.7M495.3 132.6H497.7M506.5 133.1H508.7M507.6 129.7V136.5M506.5 131.9V134.3M508.7 131.9V134.3M506.4 129.7H508.8M506.4 136.5H508.8M517.19 137H519.81M518.5 133.6V140.4M517.19 135.8V138.2M519.81 135.8V138.2M517.3 133.6H519.7M517.3 140.4H519.7M523.96 138.4H526.84M525.4 135V141.8M523.96 137.2V139.6M526.84 137.2V139.6M524.2 135H526.6M524.2 141.8H526.6M539.15 145H542.65M540.9 141.6V148.4M539.15 143.8V146.2M542.65 143.8V146.2M539.7 141.6H542.1M539.7 148.4H542.1M549.94 152.5H553.86M551.9 149.1V155.9M549.94 151.3V153.7M553.86 151.3V153.7M550.7 149.1H553.1M550.7 155.9H553.1M560.43 153.8H564.77M562.6 150.4V157.2M560.43 152.6V155M564.77 152.6V155M561.4 150.4H563.8M561.4 157.2H563.8" stroke="#8778B3" stroke-width="0.8" fill="none"/>
<path d="M483.15 124.8a1.55 1.55 0 1 0 3.1 0a1.55 1.55 0 1 0 -3.1 0zM494.95 129.2a1.55 1.55 0 1 0 3.1 0a1.55 1.55 0 1 0 -3.1 0zM506.05 133.1a1.55 1.55 0 1 0 3.1 0a1.55 1.55 0 1 0 -3.1 0zM516.95 137a1.55 1.55 0 1 0 3.1 0a1.55 1.55 0 1 0 -3.1 0zM523.85 138.4a1.55 1.55 0 1 0 3.1 0a1.55 1.55 0 1 0 -3.1 0zM539.35 145a1.55 1.55 0 1 0 3.1 0a1.55 1.55 0 1 0 -3.1 0zM550.35 152.5a1.55 1.55 0 1 0 3.1 0a1.55 1.55 0 1 0 -3.1 0zM561.05 153.8a1.55 1.55 0 1 0 3.1 0a1.55 1.55 0 1 0 -3.1 0z" fill="#8778B3"/>
<path d="M468.4 133H469.8M469.1 128.8V137.2M468.4 131.8V134.2M469.8 131.8V134.2M467.9 128.8H470.3M467.9 137.2H470.3M495.52 139.2H497.28M496.4 135V143.4M495.52 138V140.4M497.28 138V140.4M495.2 135H497.6M495.2 143.4H497.6M503.76 143.2H505.84M504.8 139V147.4M503.76 142V144.4M505.84 142V144.4M503.6 139H506M503.6 147.4H506M509.05 144.9H511.35M510.2 140.7V149.1M509.05 143.7V146.1M511.35 143.7V146.1M509 140.7H511.4M509 149.1H511.4M521.41 151.5H524.19M522.8 147.3V155.7M521.41 150.3V152.7M524.19 150.3V152.7M521.6 147.3H524M521.6 155.7H524M530.13 158.1H533.27M531.7 153.9V162.3M530.13 156.9V159.3M533.27 156.9V159.3M530.5 153.9H532.9M530.5 162.3H532.9" stroke="#C56E1A" stroke-width="0.8" fill="none"/>
<path d="M467.55 133a1.55 1.55 0 1 0 3.1 0a1.55 1.55 0 1 0 -3.1 0zM494.85 139.2a1.55 1.55 0 1 0 3.1 0a1.55 1.55 0 1 0 -3.1 0zM503.25 143.2a1.55 1.55 0 1 0 3.1 0a1.55 1.55 0 1 0 -3.1 0zM508.65 144.9a1.55 1.55 0 1 0 3.1 0a1.55 1.55 0 1 0 -3.1 0zM521.25 151.5a1.55 1.55 0 1 0 3.1 0a1.55 1.55 0 1 0 -3.1 0zM530.15 158.1a1.55 1.55 0 1 0 3.1 0a1.55 1.55 0 1 0 -3.1 0z" fill="#C56E1A"/>
</g>
<line x1="450.65" y1="17" x2="750" y2="17" stroke="#000" stroke-width="1"/>
<line x1="451.4" y1="17" x2="451.4" y2="172.2" stroke="#000" stroke-width="1.5"/>
<line x1="450.65" y1="172.2" x2="750" y2="172.2" stroke="#000" stroke-width="1.3"/>
<line x1="749.35" y1="17" x2="749.35" y2="172.2" stroke="#000" stroke-width="1.3"/>
<line x1="451.4" y1="17" x2="454.4" y2="17" stroke="#000" stroke-width="0.9"/>
<line x1="451.4" y1="21.43" x2="453.1" y2="21.43" stroke="#000" stroke-width="0.9"/>
<line x1="451.4" y1="25.87" x2="453.1" y2="25.87" stroke="#000" stroke-width="0.9"/>
<line x1="451.4" y1="30.3" x2="453.1" y2="30.3" stroke="#000" stroke-width="0.9"/>
<line x1="451.4" y1="34.74" x2="453.1" y2="34.74" stroke="#000" stroke-width="0.9"/>
<line x1="451.4" y1="39.17" x2="454.4" y2="39.17" stroke="#000" stroke-width="0.9"/>
<line x1="451.4" y1="43.61" x2="453.1" y2="43.61" stroke="#000" stroke-width="0.9"/>
<line x1="451.4" y1="48.04" x2="453.1" y2="48.04" stroke="#000" stroke-width="0.9"/>
<line x1="451.4" y1="52.47" x2="453.1" y2="52.47" stroke="#000" stroke-width="0.9"/>
<line x1="451.4" y1="56.91" x2="453.1" y2="56.91" stroke="#000" stroke-width="0.9"/>
<line x1="451.4" y1="61.34" x2="454.4" y2="61.34" stroke="#000" stroke-width="0.9"/>
<line x1="451.4" y1="65.78" x2="453.1" y2="65.78" stroke="#000" stroke-width="0.9"/>
<line x1="451.4" y1="70.21" x2="453.1" y2="70.21" stroke="#000" stroke-width="0.9"/>
<line x1="451.4" y1="74.65" x2="453.1" y2="74.65" stroke="#000" stroke-width="0.9"/>
<line x1="451.4" y1="79.08" x2="453.1" y2="79.08" stroke="#000" stroke-width="0.9"/>
<line x1="451.4" y1="83.51" x2="454.4" y2="83.51" stroke="#000" stroke-width="0.9"/>
<line x1="451.4" y1="87.95" x2="453.1" y2="87.95" stroke="#000" stroke-width="0.9"/>
<line x1="451.4" y1="92.38" x2="453.1" y2="92.38" stroke="#000" stroke-width="0.9"/>
<line x1="451.4" y1="96.82" x2="453.1" y2="96.82" stroke="#000" stroke-width="0.9"/>
<line x1="451.4" y1="101.25" x2="453.1" y2="101.25" stroke="#000" stroke-width="0.9"/>
<line x1="451.4" y1="105.69" x2="454.4" y2="105.69" stroke="#000" stroke-width="0.9"/>
<line x1="451.4" y1="110.12" x2="453.1" y2="110.12" stroke="#000" stroke-width="0.9"/>
<line x1="451.4" y1="114.55" x2="453.1" y2="114.55" stroke="#000" stroke-width="0.9"/>
<line x1="451.4" y1="118.99" x2="453.1" y2="118.99" stroke="#000" stroke-width="0.9"/>
<line x1="451.4" y1="123.42" x2="453.1" y2="123.42" stroke="#000" stroke-width="0.9"/>
<line x1="451.4" y1="127.86" x2="454.4" y2="127.86" stroke="#000" stroke-width="0.9"/>
<line x1="451.4" y1="132.29" x2="453.1" y2="132.29" stroke="#000" stroke-width="0.9"/>
<line x1="451.4" y1="136.73" x2="453.1" y2="136.73" stroke="#000" stroke-width="0.9"/>
<line x1="451.4" y1="141.16" x2="453.1" y2="141.16" stroke="#000" stroke-width="0.9"/>
<line x1="451.4" y1="145.59" x2="453.1" y2="145.59" stroke="#000" stroke-width="0.9"/>
<line x1="451.4" y1="150.03" x2="454.4" y2="150.03" stroke="#000" stroke-width="0.9"/>
<line x1="451.4" y1="154.46" x2="453.1" y2="154.46" stroke="#000" stroke-width="0.9"/>
<line x1="451.4" y1="158.9" x2="453.1" y2="158.9" stroke="#000" stroke-width="0.9"/>
<line x1="451.4" y1="163.33" x2="453.1" y2="163.33" stroke="#000" stroke-width="0.9"/>
<line x1="451.4" y1="167.77" x2="453.1" y2="167.77" stroke="#000" stroke-width="0.9"/>
<line x1="451.4" y1="172.2" x2="454.4" y2="172.2" stroke="#000" stroke-width="0.9"/>
<line x1="451.4" y1="172.2" x2="451.4" y2="169.7" stroke="#000" stroke-width="0.9"/>
<line x1="470.02" y1="172.2" x2="470.02" y2="170.7" stroke="#000" stroke-width="0.9"/>
<line x1="488.64" y1="172.2" x2="488.64" y2="170.7" stroke="#000" stroke-width="0.9"/>
<line x1="507.27" y1="172.2" x2="507.27" y2="170.7" stroke="#000" stroke-width="0.9"/>
<line x1="525.89" y1="172.2" x2="525.89" y2="169.7" stroke="#000" stroke-width="0.9"/>
<line x1="544.51" y1="172.2" x2="544.51" y2="170.7" stroke="#000" stroke-width="0.9"/>
<line x1="563.13" y1="172.2" x2="563.13" y2="170.7" stroke="#000" stroke-width="0.9"/>
<line x1="581.75" y1="172.2" x2="581.75" y2="170.7" stroke="#000" stroke-width="0.9"/>
<line x1="600.38" y1="172.2" x2="600.38" y2="169.7" stroke="#000" stroke-width="0.9"/>
<line x1="619" y1="172.2" x2="619" y2="170.7" stroke="#000" stroke-width="0.9"/>
<line x1="637.62" y1="172.2" x2="637.62" y2="170.7" stroke="#000" stroke-width="0.9"/>
<line x1="656.24" y1="172.2" x2="656.24" y2="170.7" stroke="#000" stroke-width="0.9"/>
<line x1="674.86" y1="172.2" x2="674.86" y2="169.7" stroke="#000" stroke-width="0.9"/>
<line x1="693.48" y1="172.2" x2="693.48" y2="170.7" stroke="#000" stroke-width="0.9"/>
<line x1="712.11" y1="172.2" x2="712.11" y2="170.7" stroke="#000" stroke-width="0.9"/>
<line x1="730.73" y1="172.2" x2="730.73" y2="170.7" stroke="#000" stroke-width="0.9"/>
<line x1="749.35" y1="172.2" x2="749.35" y2="169.7" stroke="#000" stroke-width="0.9"/>
<text x="447" y="21" font-size="12" text-anchor="end" fill="#000">0.0</text>
<text x="448.8" y="43.17" font-size="12" text-anchor="end" fill="#000">- 0.5</text>
<text x="448.8" y="65.34" font-size="12" text-anchor="end" fill="#000">- 1.0</text>
<text x="448.8" y="87.51" font-size="12" text-anchor="end" fill="#000">- 1.5</text>
<text x="448.8" y="109.69" font-size="12" text-anchor="end" fill="#000">- 2.0</text>
<text x="448.8" y="131.86" font-size="12" text-anchor="end" fill="#000">- 2.5</text>
<text x="448.8" y="154.03" font-size="12" text-anchor="end" fill="#000">- 3.0</text>
<text x="448.8" y="176.2" font-size="12" text-anchor="end" fill="#000">- 3.5</text>
<text x="451.5" y="183.2" font-size="12" text-anchor="middle" fill="#000">0</text>
<text x="526.79" y="183.2" font-size="12" text-anchor="middle" fill="#000">20</text>
<text x="601.27" y="183.2" font-size="12" text-anchor="middle" fill="#000">40</text>
<text x="675.76" y="183.2" font-size="12" text-anchor="middle" fill="#000">60</text>
<text x="750.25" y="183.2" font-size="12" text-anchor="middle" fill="#000">80</text>
<text x="513.8" y="197.5" font-size="12" text-anchor="start" fill="#000" textLength="48.7" lengthAdjust="spacingAndGlyphs">Coupled</text>
<text x="568.4" y="197.5" font-size="12" text-anchor="start" fill="#000" textLength="33.7" lengthAdjust="spacingAndGlyphs">pump</text>
<text x="607.6" y="197.5" font-size="12" text-anchor="start" fill="#000" textLength="37.6" lengthAdjust="spacingAndGlyphs">power</text>
<text x="650.9" y="197.5" font-size="12" text-anchor="start" fill="#000" textLength="34.8" lengthAdjust="spacingAndGlyphs">(mW)</text>
<text x="419.6" y="171.2" font-size="12" text-anchor="start" fill="#000" textLength="62.3" lengthAdjust="spacingAndGlyphs" transform="rotate(-90 419.6 171.2)">Frequency</text>
<text x="419.6" y="105.6" font-size="12" text-anchor="start" fill="#000" textLength="30.4" lengthAdjust="spacingAndGlyphs" transform="rotate(-90 419.6 105.6)">Shift</text>
<text x="419.6" y="71.2" font-size="12" text-anchor="start" fill="#000" textLength="11" lengthAdjust="spacingAndGlyphs" transform="rotate(-90 419.6 71.2)">&#937;</text>
<text x="419.6" y="56.8" font-size="12" text-anchor="start" fill="#000" textLength="38.5" lengthAdjust="spacingAndGlyphs" transform="rotate(-90 419.6 56.8)">(MHz)</text>
<text x="413.6" y="9.2" font-size="12" text-anchor="start" fill="#000" textLength="15.8" lengthAdjust="spacingAndGlyphs">(c)</text>
<text x="755.9" y="29.9" font-size="12.2" text-anchor="start" fill="#000" textLength="69.2" lengthAdjust="spacingAndGlyphs">Normalised</text>
<text x="750.7" y="43.1" font-size="12.2" text-anchor="start" fill="#000" textLength="54.6" lengthAdjust="spacingAndGlyphs">detuning</text>
<text x="809.8" y="43.1" font-size="12.2" text-anchor="start" fill="#000" textLength="21.7" lengthAdjust="spacingAndGlyphs">&#948;/&#947;</text>
<line x1="769" y1="63.3" x2="783" y2="63.3" stroke="#666666" stroke-width="1.3"/>
<text x="789.7" y="67.4" font-size="12.2" text-anchor="start" fill="#000">0</text>
<line x1="769" y1="79.25" x2="783" y2="79.25" stroke="#5E81B5" stroke-width="1.3"/>
<text x="789.7" y="83.35" font-size="12.2" text-anchor="start" fill="#000">0.75</text>
<line x1="769" y1="94.66" x2="783" y2="94.66" stroke="#E19C24" stroke-width="1.3"/>
<text x="789.7" y="98.76" font-size="12.2" text-anchor="start" fill="#000">1</text>
<line x1="769" y1="109.9" x2="783" y2="109.9" stroke="#8FB032" stroke-width="1.3"/>
<text x="789.7" y="114" font-size="12.2" text-anchor="start" fill="#000">1.25</text>
<line x1="769" y1="125.3" x2="783" y2="125.3" stroke="#EB6235" stroke-width="1.3"/>
<text x="789.7" y="129.4" font-size="12.2" text-anchor="start" fill="#000">1.5</text>
<line x1="769" y1="140.65" x2="783" y2="140.65" stroke="#8778B3" stroke-width="1.3"/>
<text x="789.7" y="144.75" font-size="12.2" text-anchor="start" fill="#000">1.75</text>
<line x1="769" y1="155.8" x2="783" y2="155.8" stroke="#C56E1A" stroke-width="1.3"/>
<text x="789.7" y="159.9" font-size="12.2" text-anchor="start" fill="#000">2</text>
<g id="pd">
<path d="M451.76 262.01a1.25 1.25 0 1 0 2.5 0a1.25 1.25 0 1 0 -2.5 0zM453.66 262.24a1.25 1.25 0 1 0 2.5 0a1.25 1.25 0 1 0 -2.5 0zM455.56 261.21a1.25 1.25 0 1 0 2.5 0a1.25 1.25 0 1 0 -2.5 0zM457.46 258.99a1.25 1.25 0 1 0 2.5 0a1.25 1.25 0 1 0 -2.5 0zM459.36 258.48a1.25 1.25 0 1 0 2.5 0a1.25 1.25 0 1 0 -2.5 0zM461.26 258.26a1.25 1.25 0 1 0 2.5 0a1.25 1.25 0 1 0 -2.5 0zM463.16 259.85a1.25 1.25 0 1 0 2.5 0a1.25 1.25 0 1 0 -2.5 0zM465.06 262.77a1.25 1.25 0 1 0 2.5 0a1.25 1.25 0 1 0 -2.5 0zM466.96 264.38a1.25 1.25 0 1 0 2.5 0a1.25 1.25 0 1 0 -2.5 0zM468.86 267.92a1.25 1.25 0 1 0 2.5 0a1.25 1.25 0 1 0 -2.5 0zM470.76 272.17a1.25 1.25 0 1 0 2.5 0a1.25 1.25 0 1 0 -2.5 0zM472.66 278.31a1.25 1.25 0 1 0 2.5 0a1.25 1.25 0 1 0 -2.5 0zM474.56 282.21a1.25 1.25 0 1 0 2.5 0a1.25 1.25 0 1 0 -2.5 0zM476.46 287.34a1.25 1.25 0 1 0 2.5 0a1.25 1.25 0 1 0 -2.5 0zM478.36 290.78a1.25 1.25 0 1 0 2.5 0a1.25 1.25 0 1 0 -2.5 0zM480.26 290.04a1.25 1.25 0 1 0 2.5 0a1.25 1.25 0 1 0 -2.5 0zM482.16 285.94a1.25 1.25 0 1 0 2.5 0a1.25 1.25 0 1 0 -2.5 0zM484.06 280.79a1.25 1.25 0 1 0 2.5 0a1.25 1.25 0 1 0 -2.5 0zM485.96 274.54a1.25 1.25 0 1 0 2.5 0a1.25 1.25 0 1 0 -2.5 0zM487.86 270.1a1.25 1.25 0 1 0 2.5 0a1.25 1.25 0 1 0 -2.5 0zM489.76 265.99a1.25 1.25 0 1 0 2.5 0a1.25 1.25 0 1 0 -2.5 0zM491.66 263.71a1.25 1.25 0 1 0 2.5 0a1.25 1.25 0 1 0 -2.5 0zM493.56 262.42a1.25 1.25 0 1 0 2.5 0a1.25 1.25 0 1 0 -2.5 0zM495.46 262.03a1.25 1.25 0 1 0 2.5 0a1.25 1.25 0 1 0 -2.5 0zM497.36 259.83a1.25 1.25 0 1 0 2.5 0a1.25 1.25 0 1 0 -2.5 0zM499.26 260.19a1.25 1.25 0 1 0 2.5 0a1.25 1.25 0 1 0 -2.5 0zM501.16 259.29a1.25 1.25 0 1 0 2.5 0a1.25 1.25 0 1 0 -2.5 0zM503.06 258.36a1.25 1.25 0 1 0 2.5 0a1.25 1.25 0 1 0 -2.5 0zM504.96 256.54a1.25 1.25 0 1 0 2.5 0a1.25 1.25 0 1 0 -2.5 0zM506.86 257.43a1.25 1.25 0 1 0 2.5 0a1.25 1.25 0 1 0 -2.5 0zM508.76 258.04a1.25 1.25 0 1 0 2.5 0a1.25 1.25 0 1 0 -2.5 0zM510.66 259.62a1.25 1.25 0 1 0 2.5 0a1.25 1.25 0 1 0 -2.5 0zM512.56 259.26a1.25 1.25 0 1 0 2.5 0a1.25 1.25 0 1 0 -2.5 0zM514.46 258.69a1.25 1.25 0 1 0 2.5 0a1.25 1.25 0 1 0 -2.5 0zM516.36 257.97a1.25 1.25 0 1 0 2.5 0a1.25 1.25 0 1 0 -2.5 0zM518.26 254.54a1.25 1.25 0 1 0 2.5 0a1.25 1.25 0 1 0 -2.5 0zM520.16 255.85a1.25 1.25 0 1 0 2.5 0a1.25 1.25 0 1 0 -2.5 0zM522.06 255.6a1.25 1.25 0 1 0 2.5 0a1.25 1.25 0 1 0 -2.5 0zM523.96 255.33a1.25 1.25 0 1 0 2.5 0a1.25 1.25 0 1 0 -2.5 0zM525.86 255.58a1.25 1.25 0 1 0 2.5 0a1.25 1.25 0 1 0 -2.5 0zM527.76 254.1a1.25 1.25 0 1 0 2.5 0a1.25 1.25 0 1 0 -2.5 0zM529.66 252.18a1.25 1.25 0 1 0 2.5 0a1.25 1.25 0 1 0 -2.5 0zM531.56 252.13a1.25 1.25 0 1 0 2.5 0a1.25 1.25 0 1 0 -2.5 0zM533.46 253.23a1.25 1.25 0 1 0 2.5 0a1.25 1.25 0 1 0 -2.5 0zM535.36 253.01a1.25 1.25 0 1 0 2.5 0a1.25 1.25 0 1 0 -2.5 0zM537.26 250.94a1.25 1.25 0 1 0 2.5 0a1.25 1.25 0 1 0 -2.5 0zM539.16 251.65a1.25 1.25 0 1 0 2.5 0a1.25 1.25 0 1 0 -2.5 0zM541.06 253.08a1.25 1.25 0 1 0 2.5 0a1.25 1.25 0 1 0 -2.5 0zM542.96 251.6a1.25 1.25 0 1 0 2.5 0a1.25 1.25 0 1 0 -2.5 0zM544.86 254.86a1.25 1.25 0 1 0 2.5 0a1.25 1.25 0 1 0 -2.5 0zM546.76 257.77a1.25 1.25 0 1 0 2.5 0a1.25 1.25 0 1 0 -2.5 0zM548.66 256.79a1.25 1.25 0 1 0 2.5 0a1.25 1.25 0 1 0 -2.5 0zM550.56 256.71a1.25 1.25 0 1 0 2.5 0a1.25 1.25 0 1 0 -2.5 0zM552.46 259.21a1.25 1.25 0 1 0 2.5 0a1.25 1.25 0 1 0 -2.5 0zM554.36 257.81a1.25 1.25 0 1 0 2.5 0a1.25 1.25 0 1 0 -2.5 0zM556.26 258.81a1.25 1.25 0 1 0 2.5 0a1.25 1.25 0 1 0 -2.5 0zM558.16 258.88a1.25 1.25 0 1 0 2.5 0a1.25 1.25 0 1 0 -2.5 0zM560.06 259.39a1.25 1.25 0 1 0 2.5 0a1.25 1.25 0 1 0 -2.5 0zM561.96 258.99a1.25 1.25 0 1 0 2.5 0a1.25 1.25 0 1 0 -2.5 0zM563.86 256.19a1.25 1.25 0 1 0 2.5 0a1.25 1.25 0 1 0 -2.5 0zM565.76 256.07a1.25 1.25 0 1 0 2.5 0a1.25 1.25 0 1 0 -2.5 0zM567.66 257.1a1.25 1.25 0 1 0 2.5 0a1.25 1.25 0 1 0 -2.5 0zM569.56 256.83a1.25 1.25 0 1 0 2.5 0a1.25 1.25 0 1 0 -2.5 0zM571.46 256.52a1.25 1.25 0 1 0 2.5 0a1.25 1.25 0 1 0 -2.5 0zM573.36 258.61a1.25 1.25 0 1 0 2.5 0a1.25 1.25 0 1 0 -2.5 0zM575.26 257.64a1.25 1.25 0 1 0 2.5 0a1.25 1.25 0 1 0 -2.5 0zM577.16 256.78a1.25 1.25 0 1 0 2.5 0a1.25 1.25 0 1 0 -2.5 0zM579.06 255.44a1.25 1.25 0 1 0 2.5 0a1.25 1.25 0 1 0 -2.5 0zM580.96 256.77a1.25 1.25 0 1 0 2.5 0a1.25 1.25 0 1 0 -2.5 0zM582.86 256.06a1.25 1.25 0 1 0 2.5 0a1.25 1.25 0 1 0 -2.5 0zM584.76 256.6a1.25 1.25 0 1 0 2.5 0a1.25 1.25 0 1 0 -2.5 0zM586.66 252.14a1.25 1.25 0 1 0 2.5 0a1.25 1.25 0 1 0 -2.5 0zM588.56 251.17a1.25 1.25 0 1 0 2.5 0a1.25 1.25 0 1 0 -2.5 0zM590.46 253.5a1.25 1.25 0 1 0 2.5 0a1.25 1.25 0 1 0 -2.5 0zM592.36 255.44a1.25 1.25 0 1 0 2.5 0a1.25 1.25 0 1 0 -2.5 0zM594.26 258.82a1.25 1.25 0 1 0 2.5 0a1.25 1.25 0 1 0 -2.5 0zM596.16 255.83a1.25 1.25 0 1 0 2.5 0a1.25 1.25 0 1 0 -2.5 0zM598.06 253.65a1.25 1.25 0 1 0 2.5 0a1.25 1.25 0 1 0 -2.5 0zM599.96 254.28a1.25 1.25 0 1 0 2.5 0a1.25 1.25 0 1 0 -2.5 0zM601.86 254.47a1.25 1.25 0 1 0 2.5 0a1.25 1.25 0 1 0 -2.5 0zM603.76 254.91a1.25 1.25 0 1 0 2.5 0a1.25 1.25 0 1 0 -2.5 0zM605.66 252.83a1.25 1.25 0 1 0 2.5 0a1.25 1.25 0 1 0 -2.5 0zM607.56 252.56a1.25 1.25 0 1 0 2.5 0a1.25 1.25 0 1 0 -2.5 0zM609.46 254.16a1.25 1.25 0 1 0 2.5 0a1.25 1.25 0 1 0 -2.5 0zM611.36 254.03a1.25 1.25 0 1 0 2.5 0a1.25 1.25 0 1 0 -2.5 0zM613.26 254.04a1.25 1.25 0 1 0 2.5 0a1.25 1.25 0 1 0 -2.5 0zM615.16 252.65a1.25 1.25 0 1 0 2.5 0a1.25 1.25 0 1 0 -2.5 0zM617.06 252.48a1.25 1.25 0 1 0 2.5 0a1.25 1.25 0 1 0 -2.5 0zM618.96 253.91a1.25 1.25 0 1 0 2.5 0a1.25 1.25 0 1 0 -2.5 0zM620.86 252.21a1.25 1.25 0 1 0 2.5 0a1.25 1.25 0 1 0 -2.5 0zM622.76 251.32a1.25 1.25 0 1 0 2.5 0a1.25 1.25 0 1 0 -2.5 0zM624.66 252.3a1.25 1.25 0 1 0 2.5 0a1.25 1.25 0 1 0 -2.5 0zM626.56 252.18a1.25 1.25 0 1 0 2.5 0a1.25 1.25 0 1 0 -2.5 0zM628.46 251.41a1.25 1.25 0 1 0 2.5 0a1.25 1.25 0 1 0 -2.5 0zM630.36 250.95a1.25 1.25 0 1 0 2.5 0a1.25 1.25 0 1 0 -2.5 0zM632.26 251.19a1.25 1.25 0 1 0 2.5 0a1.25 1.25 0 1 0 -2.5 0zM634.16 253.25a1.25 1.25 0 1 0 2.5 0a1.25 1.25 0 1 0 -2.5 0zM636.06 251.66a1.25 1.25 0 1 0 2.5 0a1.25 1.25 0 1 0 -2.5 0zM637.96 251.16a1.25 1.25 0 1 0 2.5 0a1.25 1.25 0 1 0 -2.5 0zM639.86 250.54a1.25 1.25 0 1 0 2.5 0a1.25 1.25 0 1 0 -2.5 0zM641.76 251.34a1.25 1.25 0 1 0 2.5 0a1.25 1.25 0 1 0 -2.5 0zM643.66 251.05a1.25 1.25 0 1 0 2.5 0a1.25 1.25 0 1 0 -2.5 0zM645.56 252.13a1.25 1.25 0 1 0 2.5 0a1.25 1.25 0 1 0 -2.5 0zM647.46 250.52a1.25 1.25 0 1 0 2.5 0a1.25 1.25 0 1 0 -2.5 0zM649.36 248.1a1.25 1.25 0 1 0 2.5 0a1.25 1.25 0 1 0 -2.5 0zM651.26 246.71a1.25 1.25 0 1 0 2.5 0a1.25 1.25 0 1 0 -2.5 0zM653.16 248.75a1.25 1.25 0 1 0 2.5 0a1.25 1.25 0 1 0 -2.5 0zM655.06 248.61a1.25 1.25 0 1 0 2.5 0a1.25 1.25 0 1 0 -2.5 0zM656.96 248.48a1.25 1.25 0 1 0 2.5 0a1.25 1.25 0 1 0 -2.5 0zM658.86 249.32a1.25 1.25 0 1 0 2.5 0a1.25 1.25 0 1 0 -2.5 0zM660.76 245.44a1.25 1.25 0 1 0 2.5 0a1.25 1.25 0 1 0 -2.5 0zM662.66 243.33a1.25 1.25 0 1 0 2.5 0a1.25 1.25 0 1 0 -2.5 0zM664.56 242.87a1.25 1.25 0 1 0 2.5 0a1.25 1.25 0 1 0 -2.5 0zM666.46 245.21a1.25 1.25 0 1 0 2.5 0a1.25 1.25 0 1 0 -2.5 0zM668.36 245.17a1.25 1.25 0 1 0 2.5 0a1.25 1.25 0 1 0 -2.5 0zM670.26 246.51a1.25 1.25 0 1 0 2.5 0a1.25 1.25 0 1 0 -2.5 0zM672.16 244.51a1.25 1.25 0 1 0 2.5 0a1.25 1.25 0 1 0 -2.5 0zM674.06 241.76a1.25 1.25 0 1 0 2.5 0a1.25 1.25 0 1 0 -2.5 0zM675.96 243.57a1.25 1.25 0 1 0 2.5 0a1.25 1.25 0 1 0 -2.5 0zM677.86 245.17a1.25 1.25 0 1 0 2.5 0a1.25 1.25 0 1 0 -2.5 0zM679.76 241.77a1.25 1.25 0 1 0 2.5 0a1.25 1.25 0 1 0 -2.5 0zM681.66 236.91a1.25 1.25 0 1 0 2.5 0a1.25 1.25 0 1 0 -2.5 0zM683.56 238.55a1.25 1.25 0 1 0 2.5 0a1.25 1.25 0 1 0 -2.5 0zM685.46 242.7a1.25 1.25 0 1 0 2.5 0a1.25 1.25 0 1 0 -2.5 0zM687.36 246.15a1.25 1.25 0 1 0 2.5 0a1.25 1.25 0 1 0 -2.5 0zM689.26 244.02a1.25 1.25 0 1 0 2.5 0a1.25 1.25 0 1 0 -2.5 0zM691.16 245.61a1.25 1.25 0 1 0 2.5 0a1.25 1.25 0 1 0 -2.5 0zM693.06 245.81a1.25 1.25 0 1 0 2.5 0a1.25 1.25 0 1 0 -2.5 0zM694.96 248.53a1.25 1.25 0 1 0 2.5 0a1.25 1.25 0 1 0 -2.5 0zM696.86 250.74a1.25 1.25 0 1 0 2.5 0a1.25 1.25 0 1 0 -2.5 0zM698.76 248.79a1.25 1.25 0 1 0 2.5 0a1.25 1.25 0 1 0 -2.5 0zM700.66 249.59a1.25 1.25 0 1 0 2.5 0a1.25 1.25 0 1 0 -2.5 0zM702.56 249.38a1.25 1.25 0 1 0 2.5 0a1.25 1.25 0 1 0 -2.5 0zM704.46 250.92a1.25 1.25 0 1 0 2.5 0a1.25 1.25 0 1 0 -2.5 0zM706.36 252.34a1.25 1.25 0 1 0 2.5 0a1.25 1.25 0 1 0 -2.5 0zM708.26 252.47a1.25 1.25 0 1 0 2.5 0a1.25 1.25 0 1 0 -2.5 0zM710.16 252.15a1.25 1.25 0 1 0 2.5 0a1.25 1.25 0 1 0 -2.5 0zM712.06 254.56a1.25 1.25 0 1 0 2.5 0a1.25 1.25 0 1 0 -2.5 0zM713.96 254.63a1.25 1.25 0 1 0 2.5 0a1.25 1.25 0 1 0 -2.5 0zM715.86 256.28a1.25 1.25 0 1 0 2.5 0a1.25 1.25 0 1 0 -2.5 0zM717.76 257.01a1.25 1.25 0 1 0 2.5 0a1.25 1.25 0 1 0 -2.5 0zM719.66 257.51a1.25 1.25 0 1 0 2.5 0a1.25 1.25 0 1 0 -2.5 0zM721.56 257a1.25 1.25 0 1 0 2.5 0a1.25 1.25 0 1 0 -2.5 0zM723.46 262.36a1.25 1.25 0 1 0 2.5 0a1.25 1.25 0 1 0 -2.5 0zM725.36 258.74a1.25 1.25 0 1 0 2.5 0a1.25 1.25 0 1 0 -2.5 0zM727.26 258.39a1.25 1.25 0 1 0 2.5 0a1.25 1.25 0 1 0 -2.5 0zM729.16 259.65a1.25 1.25 0 1 0 2.5 0a1.25 1.25 0 1 0 -2.5 0zM731.06 259.84a1.25 1.25 0 1 0 2.5 0a1.25 1.25 0 1 0 -2.5 0zM732.96 258.76a1.25 1.25 0 1 0 2.5 0a1.25 1.25 0 1 0 -2.5 0zM734.86 259.58a1.25 1.25 0 1 0 2.5 0a1.25 1.25 0 1 0 -2.5 0zM736.76 260.19a1.25 1.25 0 1 0 2.5 0a1.25 1.25 0 1 0 -2.5 0zM738.66 262.15a1.25 1.25 0 1 0 2.5 0a1.25 1.25 0 1 0 -2.5 0zM740.56 260.71a1.25 1.25 0 1 0 2.5 0a1.25 1.25 0 1 0 -2.5 0zM742.46 258.69a1.25 1.25 0 1 0 2.5 0a1.25 1.25 0 1 0 -2.5 0zM744.36 262.43a1.25 1.25 0 1 0 2.5 0a1.25 1.25 0 1 0 -2.5 0zM746.26 264.26a1.25 1.25 0 1 0 2.5 0a1.25 1.25 0 1 0 -2.5 0zM748.16 266.66a1.25 1.25 0 1 0 2.5 0a1.25 1.25 0 1 0 -2.5 0zM750.06 264.05a1.25 1.25 0 1 0 2.5 0a1.25 1.25 0 1 0 -2.5 0zM751.96 262.35a1.25 1.25 0 1 0 2.5 0a1.25 1.25 0 1 0 -2.5 0zM753.86 262.32a1.25 1.25 0 1 0 2.5 0a1.25 1.25 0 1 0 -2.5 0zM755.76 262.33a1.25 1.25 0 1 0 2.5 0a1.25 1.25 0 1 0 -2.5 0zM757.66 262.65a1.25 1.25 0 1 0 2.5 0a1.25 1.25 0 1 0 -2.5 0zM759.56 259.79a1.25 1.25 0 1 0 2.5 0a1.25 1.25 0 1 0 -2.5 0zM761.46 258.4a1.25 1.25 0 1 0 2.5 0a1.25 1.25 0 1 0 -2.5 0zM763.36 260.47a1.25 1.25 0 1 0 2.5 0a1.25 1.25 0 1 0 -2.5 0zM765.26 260.27a1.25 1.25 0 1 0 2.5 0a1.25 1.25 0 1 0 -2.5 0zM767.16 260.17a1.25 1.25 0 1 0 2.5 0a1.25 1.25 0 1 0 -2.5 0zM769.06 260.46a1.25 1.25 0 1 0 2.5 0a1.25 1.25 0 1 0 -2.5 0zM770.96 259.74a1.25 1.25 0 1 0 2.5 0a1.25 1.25 0 1 0 -2.5 0zM772.86 262.36a1.25 1.25 0 1 0 2.5 0a1.25 1.25 0 1 0 -2.5 0zM774.76 261.87a1.25 1.25 0 1 0 2.5 0a1.25 1.25 0 1 0 -2.5 0zM776.66 262.37a1.25 1.25 0 1 0 2.5 0a1.25 1.25 0 1 0 -2.5 0zM778.56 262.58a1.25 1.25 0 1 0 2.5 0a1.25 1.25 0 1 0 -2.5 0zM780.46 265.17a1.25 1.25 0 1 0 2.5 0a1.25 1.25 0 1 0 -2.5 0zM782.36 265.85a1.25 1.25 0 1 0 2.5 0a1.25 1.25 0 1 0 -2.5 0zM784.26 264.97a1.25 1.25 0 1 0 2.5 0a1.25 1.25 0 1 0 -2.5 0zM786.16 260.18a1.25 1.25 0 1 0 2.5 0a1.25 1.25 0 1 0 -2.5 0zM788.06 260.74a1.25 1.25 0 1 0 2.5 0a1.25 1.25 0 1 0 -2.5 0zM789.96 262.87a1.25 1.25 0 1 0 2.5 0a1.25 1.25 0 1 0 -2.5 0zM791.86 261.37a1.25 1.25 0 1 0 2.5 0a1.25 1.25 0 1 0 -2.5 0zM793.76 262.17a1.25 1.25 0 1 0 2.5 0a1.25 1.25 0 1 0 -2.5 0zM795.66 263.55a1.25 1.25 0 1 0 2.5 0a1.25 1.25 0 1 0 -2.5 0zM797.56 264.3a1.25 1.25 0 1 0 2.5 0a1.25 1.25 0 1 0 -2.5 0zM799.46 263.42a1.25 1.25 0 1 0 2.5 0a1.25 1.25 0 1 0 -2.5 0zM801.36 264.69a1.25 1.25 0 1 0 2.5 0a1.25 1.25 0 1 0 -2.5 0zM803.26 265.97a1.25 1.25 0 1 0 2.5 0a1.25 1.25 0 1 0 -2.5 0zM805.16 264a1.25 1.25 0 1 0 2.5 0a1.25 1.25 0 1 0 -2.5 0zM807.06 261.98a1.25 1.25 0 1 0 2.5 0a1.25 1.25 0 1 0 -2.5 0zM498.17 256.53a1.25 1.25 0 1 0 2.5 0a1.25 1.25 0 1 0 -2.5 0zM500.18 251.01a1.25 1.25 0 1 0 2.5 0a1.25 1.25 0 1 0 -2.5 0zM503.44 268.32a1.25 1.25 0 1 0 2.5 0a1.25 1.25 0 1 0 -2.5 0zM544.08 259.79a1.25 1.25 0 1 0 2.5 0a1.25 1.25 0 1 0 -2.5 0zM641.93 245.99a1.25 1.25 0 1 0 2.5 0a1.25 1.25 0 1 0 -2.5 0zM710.81 259.04a1.25 1.25 0 1 0 2.5 0a1.25 1.25 0 1 0 -2.5 0zM787.33 252.26a1.25 1.25 0 1 0 2.5 0a1.25 1.25 0 1 0 -2.5 0z" fill="#7d7d7d"/>
<line x1="532.88" y1="262.4" x2="807.17" y2="262.4" stroke="#404040" stroke-width="1"/>
<path d="M452.55 262.93 L452.83 262.94 L453.11 262.96 L453.39 262.98 L453.66 262.99 L453.94 263.01 L454.22 263.03 L454.5 263.05 L454.78 263.07 L455.06 263.09 L455.34 263.11 L455.61 263.14 L455.89 263.16 L456.17 263.18 L456.45 263.21 L456.73 263.23 L457.01 263.26 L457.29 263.28 L457.56 263.31 L457.84 263.34 L458.12 263.37 L458.4 263.4 L458.68 263.43 L458.96 263.47 L459.24 263.5 L459.51 263.54 L459.79 263.57 L460.07 263.61 L460.35 263.65 L460.63 263.69 L460.91 263.74 L461.19 263.78 L461.47 263.83 L461.74 263.88 L462.02 263.93 L462.3 263.98 L462.58 264.03 L462.86 264.09 L463.14 264.15 L463.42 264.22 L463.69 264.28 L463.97 264.35 L464.25 264.42 L464.53 264.5 L464.81 264.58 L465.09 264.66 L465.37 264.75 L465.64 264.84 L465.92 264.93 L466.2 265.03 L466.48 265.14 L466.76 265.25 L467.04 265.37 L467.32 265.49 L467.59 265.62 L467.87 265.76 L468.15 265.91 L468.43 266.06 L468.71 266.23 L468.99 266.4 L469.27 266.58 L469.54 266.78 L469.82 266.99 L470.1 267.21 L470.38 267.44 L470.66 267.7 L470.94 267.96 L471.22 268.25 L471.49 268.55 L471.77 268.88 L472.05 269.23 L472.33 269.6 L472.61 270 L472.89 270.43 L473.17 270.89 L473.44 271.38 L473.72 271.91 L474 272.48 L474.28 273.09 L474.56 273.75 L474.84 274.45 L475.12 275.2 L475.39 276.01 L475.67 276.86 L475.95 277.78 L476.23 278.75 L476.51 279.77 L476.79 280.84 L477.07 281.96 L477.34 283.12 L477.62 284.31 L477.9 285.51 L478.18 286.71 L478.46 287.88 L478.74 288.99 L479.02 290.02 L479.3 290.94 L479.57 291.71 L479.85 292.32 L480.13 292.72 L480.41 292.92 L480.69 292.89 L480.97 292.64 L481.25 292.19 L481.52 291.54 L481.8 290.73 L482.08 289.78 L482.36 288.73 L482.64 287.6 L482.92 286.42 L483.2 285.22 L483.47 284.02 L483.75 282.84 L484.03 281.69 L484.31 280.58 L484.59 279.52 L484.87 278.51 L485.15 277.55 L485.42 276.65 L485.7 275.81 L485.98 275.01 L486.26 274.28 L486.54 273.58 L486.82 272.94 L487.1 272.34 L487.37 271.78 L487.65 271.26 L487.93 270.78 L488.21 270.32 L488.49 269.9 L488.77 269.51 L489.05 269.14 L489.32 268.8 L489.6 268.48 L489.88 268.18 L490.16 267.9 L490.44 267.63 L490.72 267.39 L491 267.15 L491.27 266.94 L491.55 266.73 L491.83 266.54 L492.11 266.36 L492.39 266.19 L492.67 266.02 L492.95 265.87 L493.22 265.73 L493.5 265.59 L493.78 265.46 L494.06 265.34 L494.34 265.22 L494.62 265.11 L494.9 265.01 L495.18 264.91 L495.45 264.81 L495.73 264.72 L496.01 264.64 L496.29 264.56 L496.57 264.48 L496.85 264.4 L497.13 264.33 L497.4 264.26 L497.68 264.2 L497.96 264.14 L498.24 264.08 L498.52 264.02 L498.8 263.97 L499.08 263.91 L499.35 263.86 L499.63 263.82 L499.91 263.77 L500.19 263.73 L500.47 263.68 L500.75 263.64 L501.03 263.6 L501.3 263.56 L501.58 263.53 L501.86 263.49 L502.14 263.46 L502.42 263.42 L502.7 263.39 L502.98 263.36 L503.25 263.33 L503.53 263.3 L503.81 263.28 L504.09 263.25 L504.37 263.22 L504.65 263.2 L504.93 263.18 L505.2 263.15 L505.48 263.13 L505.76 263.11 L506.04 263.09 L506.32 263.07 L506.6 263.05 L506.88 263.03 L507.15 263.01 L507.43 262.99 L507.71 262.97 L507.99 262.96 L508.27 262.94 L508.55 262.92 L508.83 262.91 L509.1 262.89 L509.38 262.88 L509.66 262.86 L509.94 262.85 L510.22 262.83 L510.5 262.82 L510.78 262.81 L511.06 262.8 L511.33 262.78 L511.61 262.77 L511.89 262.76 L512.17 262.75 L512.45 262.74 L512.73 262.73 L513.01 262.72 L513.28 262.71 L513.56 262.7 L513.84 262.69 L514.12 262.68 L514.4 262.67 L514.68 262.66 L514.96 262.65 L515.23 262.64 L515.51 262.63 L515.79 262.62 L516.07 262.62 L516.35 262.61 L516.63 262.6 L516.91 262.59 L517.18 262.59 L517.46 262.58 L517.74 262.57 L518.02 262.56 L518.3 262.56 L518.58 262.55 L518.86 262.55 L519.13 262.54 L519.41 262.53 L519.69 262.53 L519.97 262.52 L520.25 262.51 L520.53 262.51 L520.81 262.5 L521.08 262.5 L521.36 262.49 L521.64 262.49 L521.92 262.48 L522.2 262.48 L522.48 262.47 L522.76 262.47 L523.03 262.46 L523.31 262.46 L523.59 262.45 L523.87 262.45 L524.15 262.44 L524.43 262.44 L524.71 262.44 L524.98 262.43 L525.26 262.43 L525.54 262.42 L525.82 262.42 L526.1 262.42 L526.38 262.41 L526.66 262.41 L526.93 262.41 L527.21 262.4 L527.49 262.4 L527.77 262.39 L528.05 262.39 L528.33 262.39 L528.61 262.38 L528.89 262.38 L529.16 262.38 L529.44 262.37 L529.72 262.37 L530 262.37 L530.28 262.37 L530.56 262.36 L530.84 262.36 L531.11 262.36 L531.39 262.35 L531.67 262.35 L531.95 262.35 L532.23 262.35 L532.51 262.34 L532.79 262.34 L533.06 262.34 L533.34 262.34 L533.62 262.33 L533.9 262.33 L534.18 262.33 L534.46 262.33 L534.74 262.32 L535.01 262.32 L535.29 262.32 L535.57 262.32 L535.85 262.32" fill="none" stroke="#000" stroke-width="1.25"/>
<line x1="791.7" y1="224.5" x2="791.7" y2="299.7" stroke="#5E81B5" stroke-width="1.25"/>
<text x="753.8" y="237.6" font-size="12" text-anchor="start" fill="#5E81B5" textLength="34" lengthAdjust="spacingAndGlyphs">Pump</text>
</g>
<line x1="450.95" y1="224.5" x2="816.25" y2="224.5" stroke="#000" stroke-width="1"/>
<line x1="451.7" y1="224.5" x2="451.7" y2="299.7" stroke="#000" stroke-width="1.5"/>
<line x1="450.95" y1="299.7" x2="816.25" y2="299.7" stroke="#000" stroke-width="1.5"/>
<line x1="815.6" y1="224.5" x2="815.6" y2="299.7" stroke="#000" stroke-width="1.3"/>
<line x1="451.7" y1="299.7" x2="454.7" y2="299.7" stroke="#000" stroke-width="0.9"/>
<line x1="451.7" y1="295.94" x2="453.4" y2="295.94" stroke="#000" stroke-width="0.9"/>
<line x1="451.7" y1="292.18" x2="453.4" y2="292.18" stroke="#000" stroke-width="0.9"/>
<line x1="451.7" y1="288.42" x2="453.4" y2="288.42" stroke="#000" stroke-width="0.9"/>
<line x1="451.7" y1="284.66" x2="453.4" y2="284.66" stroke="#000" stroke-width="0.9"/>
<line x1="451.7" y1="280.9" x2="454.7" y2="280.9" stroke="#000" stroke-width="0.9"/>
<line x1="451.7" y1="277.14" x2="453.4" y2="277.14" stroke="#000" stroke-width="0.9"/>
<line x1="451.7" y1="273.38" x2="453.4" y2="273.38" stroke="#000" stroke-width="0.9"/>
<line x1="451.7" y1="269.62" x2="453.4" y2="269.62" stroke="#000" stroke-width="0.9"/>
<line x1="451.7" y1="265.86" x2="453.4" y2="265.86" stroke="#000" stroke-width="0.9"/>
<line x1="451.7" y1="262.1" x2="454.7" y2="262.1" stroke="#000" stroke-width="0.9"/>
<line x1="451.7" y1="258.34" x2="453.4" y2="258.34" stroke="#000" stroke-width="0.9"/>
<line x1="451.7" y1="254.58" x2="453.4" y2="254.58" stroke="#000" stroke-width="0.9"/>
<line x1="451.7" y1="250.82" x2="453.4" y2="250.82" stroke="#000" stroke-width="0.9"/>
<line x1="451.7" y1="247.06" x2="453.4" y2="247.06" stroke="#000" stroke-width="0.9"/>
<line x1="451.7" y1="243.3" x2="454.7" y2="243.3" stroke="#000" stroke-width="0.9"/>
<line x1="451.7" y1="239.54" x2="453.4" y2="239.54" stroke="#000" stroke-width="0.9"/>
<line x1="451.7" y1="235.78" x2="453.4" y2="235.78" stroke="#000" stroke-width="0.9"/>
<line x1="451.7" y1="232.02" x2="453.4" y2="232.02" stroke="#000" stroke-width="0.9"/>
<line x1="451.7" y1="228.26" x2="453.4" y2="228.26" stroke="#000" stroke-width="0.9"/>
<line x1="451.7" y1="224.5" x2="454.7" y2="224.5" stroke="#000" stroke-width="0.9"/>
<line x1="458.5" y1="299.7" x2="458.5" y2="298.1" stroke="#000" stroke-width="0.9"/>
<line x1="470.4" y1="299.7" x2="470.4" y2="298.1" stroke="#000" stroke-width="0.9"/>
<line x1="482.3" y1="299.7" x2="482.3" y2="298.1" stroke="#000" stroke-width="0.9"/>
<line x1="494.2" y1="299.7" x2="494.2" y2="297.1" stroke="#000" stroke-width="0.9"/>
<line x1="506.1" y1="299.7" x2="506.1" y2="298.1" stroke="#000" stroke-width="0.9"/>
<line x1="518" y1="299.7" x2="518" y2="298.1" stroke="#000" stroke-width="0.9"/>
<line x1="529.9" y1="299.7" x2="529.9" y2="298.1" stroke="#000" stroke-width="0.9"/>
<line x1="541.8" y1="299.7" x2="541.8" y2="298.1" stroke="#000" stroke-width="0.9"/>
<line x1="553.7" y1="299.7" x2="553.7" y2="297.1" stroke="#000" stroke-width="0.9"/>
<line x1="565.6" y1="299.7" x2="565.6" y2="298.1" stroke="#000" stroke-width="0.9"/>
<line x1="577.5" y1="299.7" x2="577.5" y2="298.1" stroke="#000" stroke-width="0.9"/>
<line x1="589.4" y1="299.7" x2="589.4" y2="298.1" stroke="#000" stroke-width="0.9"/>
<line x1="601.3" y1="299.7" x2="601.3" y2="298.1" stroke="#000" stroke-width="0.9"/>
<line x1="613.2" y1="299.7" x2="613.2" y2="297.1" stroke="#000" stroke-width="0.9"/>
<line x1="625.1" y1="299.7" x2="625.1" y2="298.1" stroke="#000" stroke-width="0.9"/>
<line x1="637" y1="299.7" x2="637" y2="298.1" stroke="#000" stroke-width="0.9"/>
<line x1="648.9" y1="299.7" x2="648.9" y2="298.1" stroke="#000" stroke-width="0.9"/>
<line x1="660.8" y1="299.7" x2="660.8" y2="298.1" stroke="#000" stroke-width="0.9"/>
<line x1="672.7" y1="299.7" x2="672.7" y2="297.1" stroke="#000" stroke-width="0.9"/>
<line x1="684.6" y1="299.7" x2="684.6" y2="298.1" stroke="#000" stroke-width="0.9"/>
<line x1="696.5" y1="299.7" x2="696.5" y2="298.1" stroke="#000" stroke-width="0.9"/>
<line x1="708.4" y1="299.7" x2="708.4" y2="298.1" stroke="#000" stroke-width="0.9"/>
<line x1="720.3" y1="299.7" x2="720.3" y2="298.1" stroke="#000" stroke-width="0.9"/>
<line x1="732.2" y1="299.7" x2="732.2" y2="297.1" stroke="#000" stroke-width="0.9"/>
<line x1="744.1" y1="299.7" x2="744.1" y2="298.1" stroke="#000" stroke-width="0.9"/>
<line x1="756" y1="299.7" x2="756" y2="298.1" stroke="#000" stroke-width="0.9"/>
<line x1="767.9" y1="299.7" x2="767.9" y2="298.1" stroke="#000" stroke-width="0.9"/>
<line x1="779.8" y1="299.7" x2="779.8" y2="298.1" stroke="#000" stroke-width="0.9"/>
<line x1="791.7" y1="299.7" x2="791.7" y2="297.1" stroke="#000" stroke-width="0.9"/>
<line x1="803.6" y1="299.7" x2="803.6" y2="298.1" stroke="#000" stroke-width="0.9"/>
<line x1="815.5" y1="299.7" x2="815.5" y2="298.1" stroke="#000" stroke-width="0.9"/>
<text x="448.7" y="303.4" font-size="12" text-anchor="end" fill="#000" textLength="17" lengthAdjust="spacingAndGlyphs">0.0</text>
<text x="448.7" y="284.6" font-size="12" text-anchor="end" fill="#000" textLength="17" lengthAdjust="spacingAndGlyphs">0.5</text>
<text x="448.7" y="265.8" font-size="12" text-anchor="end" fill="#000" textLength="17" lengthAdjust="spacingAndGlyphs">1.0</text>
<text x="448.7" y="247" font-size="12" text-anchor="end" fill="#000" textLength="17" lengthAdjust="spacingAndGlyphs">1.5</text>
<text x="448.7" y="228.2" font-size="12" text-anchor="end" fill="#000" textLength="17" lengthAdjust="spacingAndGlyphs">2.0</text>
<text x="494.5" y="311" font-size="12" text-anchor="middle" fill="#000" textLength="17.6" lengthAdjust="spacingAndGlyphs">-50</text>
<text x="554" y="311" font-size="12" text-anchor="middle" fill="#000" textLength="17.6" lengthAdjust="spacingAndGlyphs">-40</text>
<text x="613.5" y="311" font-size="12" text-anchor="middle" fill="#000" textLength="17.6" lengthAdjust="spacingAndGlyphs">-30</text>
<text x="673" y="311" font-size="12" text-anchor="middle" fill="#000" textLength="17.6" lengthAdjust="spacingAndGlyphs">-20</text>
<text x="732.5" y="311" font-size="12" text-anchor="middle" fill="#000" textLength="17.6" lengthAdjust="spacingAndGlyphs">-10</text>
<text x="791.7" y="311" font-size="12" text-anchor="middle" fill="#000" textLength="6.7" lengthAdjust="spacingAndGlyphs">0</text>
<text x="516.5" y="323.8" font-size="12" text-anchor="start" fill="#000" textLength="63.8" lengthAdjust="spacingAndGlyphs">Frequency</text>
<text x="585.6" y="323.8" font-size="12" text-anchor="start" fill="#000" textLength="34.5" lengthAdjust="spacingAndGlyphs">offset</text>
<text x="624.7" y="323.8" font-size="12" text-anchor="start" fill="#000" textLength="27.9" lengthAdjust="spacingAndGlyphs">from</text>
<text x="658.6" y="323.8" font-size="12" text-anchor="start" fill="#000" textLength="33.8" lengthAdjust="spacingAndGlyphs">pump</text>
<text x="698.4" y="323.8" font-size="12" text-anchor="start" fill="#000" textLength="37" lengthAdjust="spacingAndGlyphs">(MHz)</text>
<text x="430.9" y="207.3" font-size="12" text-anchor="start" fill="#000" textLength="18.6" lengthAdjust="spacingAndGlyphs">(d)</text>
<text x="450.8" y="222.3" font-size="12" text-anchor="start" fill="#000" textLength="38.8" lengthAdjust="spacingAndGlyphs">Pump:</text>
<text x="496.5" y="222.3" font-size="12" text-anchor="start" fill="#000" textLength="13.8" lengthAdjust="spacingAndGlyphs">10</text>
<text x="515.9" y="222.3" font-size="12" text-anchor="start" fill="#000" textLength="23.1" lengthAdjust="spacingAndGlyphs">mW</text>
<text x="419.8" y="321.3" font-size="12" text-anchor="start" fill="#000" textLength="80.4" lengthAdjust="spacingAndGlyphs" transform="rotate(-90 419.8 321.3)">Transmission</text>
<text x="419.8" y="236.9" font-size="12" text-anchor="start" fill="#000" textLength="35.8" lengthAdjust="spacingAndGlyphs" transform="rotate(-90 419.8 236.9)">(a.u.)</text>
</svg>
</body></html>
